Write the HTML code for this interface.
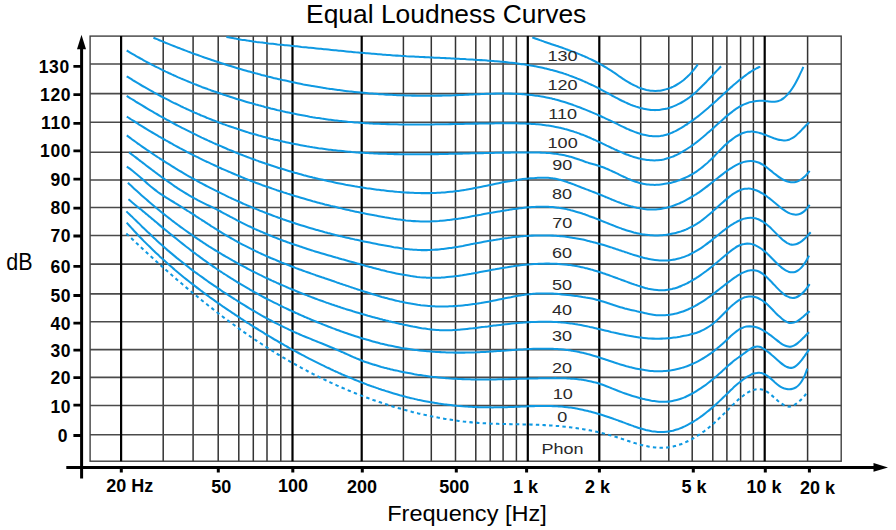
<!DOCTYPE html>
<html><head><meta charset="utf-8"><style>html,body{margin:0;padding:0;background:#fff;width:896px;height:530px;overflow:hidden}</style></head>
<body>
<svg width="896" height="530" viewBox="0 0 896 530" style="position:absolute;left:0;top:0"><path d="M163.2 36.1V461.2M193.1 36.1V461.2M218.2 36.1V461.2M238.8 36.1V461.2M253.3 36.1V461.2M267.0 36.1V461.2M280.8 36.1V461.2M403.4 36.1V461.2M431.3 36.1V461.2M455.5 36.1V461.2M475.8 36.1V461.2M490.2 36.1V461.2M503.1 36.1V461.2M516.4 36.1V461.2M640.7 36.1V461.2M668.8 36.1V461.2M692.2 36.1V461.2M712.8 36.1V461.2M726.9 36.1V461.2M740.6 36.1V461.2M753.4 36.1V461.2M807.6 36.1V461.2" stroke="#333" stroke-width="1.5" fill="none"/><path d="M90.1 64.0H841.2M90.1 93.6H841.2M90.1 122.2H841.2M90.1 152.2H841.2M90.1 180.0H841.2M90.1 207.5H841.2M90.1 235.5H841.2M90.1 264.1H841.2M90.1 293.9H841.2M90.1 321.7H841.2M90.1 349.6H841.2M90.1 377.4H841.2M90.1 405.5H841.2M90.1 434.7H841.2" stroke="#4a4a4a" stroke-width="1.6" fill="none"/><rect x="90.1" y="36.1" width="751.1" height="425.1" stroke="#404040" stroke-width="1.4" fill="none"/><path d="M121.1 36.1V461.2M292.5 36.1V461.2M361.7 36.1V461.2M527.8 36.1V461.2M599.3 36.1V461.2M764.7 36.1V461.2" stroke="#000" stroke-width="2.2" fill="none"/><path d="M532.3 37.4C532.8 37.6 534.3 38.1 535.3 38.5C536.3 38.9 537.3 39.2 538.3 39.6C539.3 39.9 540.3 40.3 541.3 40.6C542.3 41.0 543.3 41.3 544.3 41.7C545.3 42.0 546.3 42.4 547.3 42.7C548.3 43.0 549.3 43.4 550.3 43.7C551.3 44.1 552.3 44.4 553.3 44.7C554.3 45.1 555.3 45.4 556.3 45.8C557.3 46.1 558.3 46.4 559.3 46.8C560.3 47.1 561.3 47.5 562.3 47.8C563.3 48.2 564.3 48.5 565.3 48.9C566.3 49.3 567.3 49.6 568.3 50.0C569.3 50.3 570.3 50.7 571.3 51.1C572.3 51.5 573.3 51.8 574.3 52.2C575.3 52.6 576.3 53.0 577.3 53.4C578.3 53.8 579.3 54.2 580.3 54.6C581.3 55.0 582.3 55.5 583.3 55.9C584.3 56.3 585.3 56.8 586.3 57.2C587.3 57.7 588.3 58.1 589.3 58.6C590.3 59.0 591.3 59.5 592.3 60.0C593.3 60.5 594.3 61.0 595.3 61.5C596.3 62.0 597.3 62.5 598.3 63.1C599.3 63.6 600.3 64.2 601.3 64.7C602.3 65.3 603.3 65.9 604.3 66.5C605.3 67.0 606.3 67.7 607.3 68.3C608.3 68.9 609.3 69.5 610.3 70.2C611.3 70.8 612.3 71.5 613.3 72.2C614.3 72.8 615.3 73.5 616.3 74.2C617.3 74.9 618.3 75.6 619.3 76.3C620.3 76.9 621.3 77.6 622.3 78.3C623.3 79.0 624.3 79.6 625.3 80.3C626.3 80.9 627.3 81.5 628.3 82.1C629.3 82.7 630.3 83.3 631.3 83.9C632.3 84.4 633.3 85.0 634.3 85.4C635.3 85.9 636.3 86.4 637.3 86.8C638.3 87.3 639.3 87.7 640.3 88.0C641.3 88.4 642.3 88.8 643.3 89.1C644.3 89.4 645.3 89.6 646.3 89.9C647.3 90.1 648.3 90.3 649.3 90.4C650.3 90.6 651.3 90.7 652.3 90.8C653.3 90.9 654.3 90.9 655.3 90.9C656.3 90.9 657.3 90.9 658.3 90.8C659.3 90.7 660.3 90.6 661.3 90.4C662.3 90.2 663.3 90.0 664.3 89.8C665.3 89.6 666.3 89.3 667.3 88.9C668.3 88.6 669.3 88.3 670.3 87.9C671.3 87.5 672.3 87.0 673.3 86.6C674.3 86.1 675.3 85.6 676.3 85.0C677.3 84.4 678.3 83.8 679.3 83.2C680.3 82.5 681.3 81.8 682.3 81.0C683.3 80.3 684.3 79.4 685.3 78.6C686.3 77.7 687.3 76.8 688.3 75.8C689.3 74.8 690.3 73.7 691.3 72.6C692.3 71.5 693.3 70.4 694.3 69.1C695.3 67.9 696.7 66.0 697.3 65.2C697.9 64.4 697.7 64.6 697.8 64.5" stroke="#0f99e2" stroke-width="2.05" fill="none" stroke-linejoin="round"/><path d="M226.4 36.9C226.9 37.0 228.4 37.3 229.4 37.5C230.4 37.7 231.4 37.9 232.4 38.1C233.4 38.3 234.4 38.4 235.4 38.6C236.4 38.8 237.4 39.0 238.4 39.2C239.4 39.3 240.4 39.5 241.4 39.7C242.4 39.8 243.4 40.0 244.4 40.1C245.4 40.3 246.4 40.4 247.4 40.6C248.4 40.7 249.4 40.9 250.4 41.0C251.4 41.2 252.4 41.3 253.4 41.5C254.4 41.6 255.4 41.7 256.4 41.9C257.4 42.0 258.4 42.1 259.4 42.3C260.4 42.4 261.4 42.5 262.4 42.6C263.4 42.8 264.4 42.9 265.4 43.0C266.4 43.1 267.4 43.2 268.4 43.4C269.4 43.5 270.4 43.6 271.4 43.7C272.4 43.8 273.4 43.9 274.4 44.0C275.4 44.1 276.4 44.2 277.4 44.4C278.4 44.5 279.4 44.6 280.4 44.7C281.4 44.8 282.4 44.9 283.4 45.0C284.4 45.1 285.4 45.2 286.4 45.3C287.4 45.4 288.4 45.5 289.4 45.6C290.4 45.7 291.4 45.8 292.4 45.9C293.4 46.0 294.4 46.1 295.4 46.2C296.4 46.3 297.4 46.4 298.4 46.5C299.4 46.6 300.4 46.7 301.4 46.9C302.4 47.0 303.4 47.1 304.4 47.2C305.4 47.3 306.4 47.4 307.4 47.5C308.4 47.6 309.4 47.7 310.4 47.8C311.4 47.9 312.4 48.0 313.4 48.1C314.4 48.2 315.4 48.3 316.4 48.4C317.4 48.5 318.4 48.6 319.4 48.7C320.4 48.8 321.4 48.9 322.4 49.0C323.4 49.1 324.4 49.2 325.4 49.3C326.4 49.4 327.4 49.5 328.4 49.6C329.4 49.7 330.4 49.8 331.4 49.9C332.4 50.0 333.4 50.1 334.4 50.2C335.4 50.3 336.4 50.4 337.4 50.5C338.4 50.6 339.4 50.7 340.4 50.8C341.4 50.9 342.4 51.0 343.4 51.1C344.4 51.2 345.4 51.3 346.4 51.4C347.4 51.5 348.4 51.6 349.4 51.7C350.4 51.8 351.4 51.9 352.4 52.0C353.4 52.1 354.4 52.2 355.4 52.3C356.4 52.3 357.4 52.4 358.4 52.5C359.4 52.6 360.4 52.7 361.4 52.8C362.4 52.9 363.4 53.0 364.4 53.1C365.4 53.2 366.4 53.2 367.4 53.3C368.4 53.4 369.4 53.5 370.4 53.6C371.4 53.7 372.4 53.7 373.4 53.8C374.4 53.9 375.4 54.0 376.4 54.1C377.4 54.2 378.4 54.2 379.4 54.3C380.4 54.4 381.4 54.5 382.4 54.6C383.4 54.6 384.4 54.7 385.4 54.8C386.4 54.9 387.4 54.9 388.4 55.0C389.4 55.1 390.4 55.1 391.4 55.2C392.4 55.3 393.4 55.4 394.4 55.4C395.4 55.5 396.4 55.6 397.4 55.6C398.4 55.7 399.4 55.8 400.4 55.8C401.4 55.9 402.4 55.9 403.4 56.0C404.4 56.1 405.4 56.1 406.4 56.2C407.4 56.2 408.4 56.3 409.4 56.4C410.4 56.4 411.4 56.5 412.4 56.5C413.4 56.6 414.4 56.6 415.4 56.7C416.4 56.7 417.4 56.8 418.4 56.8C419.4 56.9 420.4 56.9 421.4 57.0C422.4 57.0 423.4 57.1 424.4 57.1C425.4 57.2 426.4 57.2 427.4 57.3C428.4 57.3 429.4 57.4 430.4 57.4C431.4 57.5 432.4 57.5 433.4 57.6C434.4 57.6 435.4 57.7 436.4 57.7C437.4 57.8 438.4 57.8 439.4 57.8C440.4 57.9 441.4 57.9 442.4 58.0C443.4 58.0 444.4 58.1 445.4 58.1C446.4 58.2 447.4 58.2 448.4 58.3C449.4 58.3 450.4 58.4 451.4 58.4C452.4 58.5 453.4 58.5 454.4 58.6C455.4 58.6 456.4 58.7 457.4 58.7C458.4 58.8 459.4 58.8 460.4 58.9C461.4 58.9 462.4 59.0 463.4 59.0C464.4 59.1 465.4 59.1 466.4 59.2C467.4 59.2 468.4 59.3 469.4 59.4C470.4 59.4 471.4 59.5 472.4 59.5C473.4 59.6 474.4 59.7 475.4 59.7C476.4 59.8 477.4 59.9 478.4 59.9C479.4 60.0 480.4 60.1 481.4 60.1C482.4 60.2 483.4 60.3 484.4 60.3C485.4 60.4 486.4 60.5 487.4 60.6C488.4 60.6 489.4 60.7 490.4 60.8C491.4 60.9 492.4 61.0 493.4 61.0C494.4 61.1 495.4 61.2 496.4 61.3C497.4 61.4 498.4 61.5 499.4 61.6C500.4 61.7 501.4 61.8 502.4 61.8C503.4 61.9 504.4 62.0 505.4 62.1C506.4 62.2 507.4 62.4 508.4 62.5C509.4 62.6 510.4 62.7 511.4 62.8C512.4 62.9 513.4 63.0 514.4 63.1C515.4 63.3 516.4 63.4 517.4 63.5C518.4 63.6 519.4 63.8 520.4 63.9C521.4 64.1 522.4 64.2 523.4 64.3C524.4 64.5 525.4 64.6 526.4 64.8C527.4 64.9 528.4 65.1 529.4 65.3C530.4 65.4 531.4 65.6 532.4 65.8C533.4 66.0 534.4 66.1 535.4 66.3C536.4 66.5 537.4 66.7 538.4 66.9C539.4 67.1 540.4 67.3 541.4 67.5C542.4 67.8 543.4 68.0 544.4 68.2C545.4 68.4 546.4 68.7 547.4 68.9C548.4 69.1 549.4 69.4 550.4 69.7C551.4 69.9 552.4 70.2 553.4 70.4C554.4 70.7 555.4 71.0 556.4 71.3C557.4 71.6 558.4 71.9 559.4 72.2C560.4 72.5 561.4 72.8 562.4 73.1C563.4 73.4 564.4 73.8 565.4 74.1C566.4 74.4 567.4 74.8 568.4 75.1C569.4 75.5 570.4 75.9 571.4 76.2C572.4 76.6 573.4 77.0 574.4 77.4C575.4 77.8 576.4 78.1 577.4 78.6C578.4 79.0 579.4 79.4 580.4 79.8C581.4 80.2 582.4 80.6 583.4 81.1C584.4 81.5 585.4 82.0 586.4 82.4C587.4 82.9 588.4 83.3 589.4 83.8C590.4 84.3 591.4 84.7 592.4 85.2C593.4 85.7 594.4 86.2 595.4 86.7C596.4 87.2 597.4 87.7 598.4 88.2C599.4 88.7 600.4 89.3 601.4 89.8C602.4 90.3 603.4 90.9 604.4 91.4C605.4 92.0 606.4 92.5 607.4 93.0C608.4 93.6 609.4 94.1 610.4 94.7C611.4 95.2 612.4 95.8 613.4 96.3C614.4 96.8 615.4 97.4 616.4 97.9C617.4 98.4 618.4 99.0 619.4 99.5C620.4 100.0 621.4 100.5 622.4 101.0C623.4 101.4 624.4 101.9 625.4 102.4C626.4 102.8 627.4 103.3 628.4 103.7C629.4 104.1 630.4 104.6 631.4 105.0C632.4 105.3 633.4 105.7 634.4 106.1C635.4 106.4 636.4 106.8 637.4 107.1C638.4 107.4 639.4 107.7 640.4 108.0C641.4 108.2 642.4 108.5 643.4 108.7C644.4 108.9 645.4 109.1 646.4 109.3C647.4 109.5 648.4 109.6 649.4 109.7C650.4 109.9 651.4 109.9 652.4 110.0C653.4 110.0 654.4 110.1 655.4 110.1C656.4 110.0 657.4 110.0 658.4 109.9C659.4 109.9 660.4 109.7 661.4 109.6C662.4 109.5 663.4 109.3 664.4 109.1C665.4 108.9 666.4 108.6 667.4 108.4C668.4 108.1 669.4 107.8 670.4 107.5C671.4 107.1 672.4 106.8 673.4 106.4C674.4 106.0 675.4 105.6 676.4 105.1C677.4 104.7 678.4 104.2 679.4 103.7C680.4 103.2 681.4 102.6 682.4 102.0C683.4 101.5 684.4 100.9 685.4 100.2C686.4 99.6 687.4 98.9 688.4 98.2C689.4 97.4 690.4 96.7 691.4 95.9C692.4 95.1 693.4 94.2 694.4 93.4C695.4 92.5 696.4 91.6 697.4 90.7C698.4 89.7 699.4 88.8 700.4 87.8C701.4 86.8 702.4 85.8 703.4 84.8C704.4 83.8 705.4 82.7 706.4 81.7C707.4 80.6 708.4 79.6 709.4 78.5C710.4 77.5 711.4 76.4 712.4 75.4C713.4 74.3 714.4 73.2 715.4 72.2C716.4 71.2 717.4 70.1 718.4 69.1C719.4 68.1 720.6 66.8 721.1 66.4" stroke="#0f99e2" stroke-width="2.05" fill="none" stroke-linejoin="round"/><path d="M153.4 37.7C153.9 37.9 155.4 38.5 156.4 38.9C157.4 39.4 158.4 39.8 159.4 40.2C160.4 40.6 161.4 41.0 162.4 41.4C163.4 41.9 164.4 42.3 165.4 42.7C166.4 43.1 167.4 43.5 168.4 43.9C169.4 44.3 170.4 44.7 171.4 45.1C172.4 45.5 173.4 45.9 174.4 46.3C175.4 46.7 176.4 47.1 177.4 47.5C178.4 47.9 179.4 48.2 180.4 48.6C181.4 49.0 182.4 49.4 183.4 49.8C184.4 50.2 185.4 50.5 186.4 50.9C187.4 51.3 188.4 51.7 189.4 52.0C190.4 52.4 191.4 52.8 192.4 53.2C193.4 53.5 194.4 53.9 195.4 54.3C196.4 54.6 197.4 55.0 198.4 55.3C199.4 55.7 200.4 56.0 201.4 56.4C202.4 56.8 203.4 57.1 204.4 57.5C205.4 57.8 206.4 58.2 207.4 58.5C208.4 58.8 209.4 59.2 210.4 59.5C211.4 59.9 212.4 60.2 213.4 60.5C214.4 60.9 215.4 61.2 216.4 61.5C217.4 61.9 218.4 62.2 219.4 62.5C220.4 62.9 221.4 63.2 222.4 63.5C223.4 63.8 224.4 64.1 225.4 64.5C226.4 64.8 227.4 65.1 228.4 65.4C229.4 65.7 230.4 66.0 231.4 66.3C232.4 66.6 233.4 67.0 234.4 67.3C235.4 67.6 236.4 67.9 237.4 68.2C238.4 68.5 239.4 68.8 240.4 69.0C241.4 69.3 242.4 69.6 243.4 69.9C244.4 70.2 245.4 70.5 246.4 70.8C247.4 71.1 248.4 71.3 249.4 71.6C250.4 71.9 251.4 72.2 252.4 72.5C253.4 72.7 254.4 73.0 255.4 73.3C256.4 73.5 257.4 73.8 258.4 74.1C259.4 74.3 260.4 74.6 261.4 74.9C262.4 75.1 263.4 75.4 264.4 75.6C265.4 75.9 266.4 76.1 267.4 76.4C268.4 76.6 269.4 76.9 270.4 77.1C271.4 77.4 272.4 77.6 273.4 77.9C274.4 78.1 275.4 78.4 276.4 78.6C277.4 78.8 278.4 79.1 279.4 79.3C280.4 79.5 281.4 79.7 282.4 80.0C283.4 80.2 284.4 80.4 285.4 80.6C286.4 80.9 287.4 81.1 288.4 81.3C289.4 81.5 290.4 81.7 291.4 81.9C292.4 82.2 293.4 82.4 294.4 82.6C295.4 82.8 296.4 83.0 297.4 83.2C298.4 83.4 299.4 83.6 300.4 83.8C301.4 84.0 302.4 84.2 303.4 84.4C304.4 84.5 305.4 84.7 306.4 84.9C307.4 85.1 308.4 85.3 309.4 85.5C310.4 85.7 311.4 85.8 312.4 86.0C313.4 86.2 314.4 86.4 315.4 86.5C316.4 86.7 317.4 86.9 318.4 87.0C319.4 87.2 320.4 87.4 321.4 87.5C322.4 87.7 323.4 87.8 324.4 88.0C325.4 88.2 326.4 88.3 327.4 88.5C328.4 88.6 329.4 88.8 330.4 88.9C331.4 89.0 332.4 89.2 333.4 89.3C334.4 89.5 335.4 89.6 336.4 89.7C337.4 89.9 338.4 90.0 339.4 90.1C340.4 90.3 341.4 90.4 342.4 90.5C343.4 90.7 344.4 90.8 345.4 90.9C346.4 91.0 347.4 91.1 348.4 91.3C349.4 91.4 350.4 91.5 351.4 91.6C352.4 91.7 353.4 91.8 354.4 91.9C355.4 92.0 356.4 92.1 357.4 92.2C358.4 92.3 359.4 92.4 360.4 92.5C361.4 92.6 362.4 92.7 363.4 92.8C364.4 92.9 365.4 93.0 366.4 93.1C367.4 93.2 368.4 93.3 369.4 93.4C370.4 93.4 371.4 93.5 372.4 93.6C373.4 93.7 374.4 93.8 375.4 93.8C376.4 93.9 377.4 94.0 378.4 94.1C379.4 94.1 380.4 94.2 381.4 94.3C382.4 94.3 383.4 94.4 384.4 94.4C385.4 94.5 386.4 94.6 387.4 94.6C388.4 94.7 389.4 94.7 390.4 94.8C391.4 94.8 392.4 94.9 393.4 94.9C394.4 95.0 395.4 95.0 396.4 95.1C397.4 95.1 398.4 95.2 399.4 95.2C400.4 95.2 401.4 95.3 402.4 95.3C403.4 95.3 404.4 95.4 405.4 95.4C406.4 95.4 407.4 95.5 408.4 95.5C409.4 95.5 410.4 95.5 411.4 95.6C412.4 95.6 413.4 95.6 414.4 95.6C415.4 95.6 416.4 95.6 417.4 95.7C418.4 95.7 419.4 95.7 420.4 95.7C421.4 95.7 422.4 95.7 423.4 95.7C424.4 95.7 425.4 95.7 426.4 95.7C427.4 95.7 428.4 95.7 429.4 95.7C430.4 95.7 431.4 95.7 432.4 95.7C433.4 95.7 434.4 95.7 435.4 95.7C436.4 95.7 437.4 95.7 438.4 95.6C439.4 95.6 440.4 95.6 441.4 95.6C442.4 95.6 443.4 95.5 444.4 95.5C445.4 95.5 446.4 95.5 447.4 95.4C448.4 95.4 449.4 95.4 450.4 95.4C451.4 95.3 452.4 95.3 453.4 95.3C454.4 95.2 455.4 95.2 456.4 95.1C457.4 95.1 458.4 95.1 459.4 95.0C460.4 95.0 461.4 94.9 462.4 94.9C463.4 94.8 464.4 94.8 465.4 94.8C466.4 94.7 467.4 94.7 468.4 94.6C469.4 94.6 470.4 94.5 471.4 94.5C472.4 94.4 473.4 94.4 474.4 94.3C475.4 94.3 476.4 94.2 477.4 94.2C478.4 94.2 479.4 94.1 480.4 94.1C481.4 94.0 482.4 94.0 483.4 93.9C484.4 93.9 485.4 93.9 486.4 93.8C487.4 93.8 488.4 93.8 489.4 93.7C490.4 93.7 491.4 93.7 492.4 93.7C493.4 93.6 494.4 93.6 495.4 93.6C496.4 93.6 497.4 93.5 498.4 93.5C499.4 93.5 500.4 93.5 501.4 93.5C502.4 93.5 503.4 93.5 504.4 93.5C505.4 93.5 506.4 93.5 507.4 93.5C508.4 93.6 509.4 93.6 510.4 93.6C511.4 93.6 512.4 93.6 513.4 93.7C514.4 93.7 515.4 93.8 516.4 93.8C517.4 93.8 518.4 93.9 519.4 94.0C520.4 94.0 521.4 94.1 522.4 94.1C523.4 94.2 524.4 94.3 525.4 94.4C526.4 94.5 527.4 94.6 528.4 94.7C529.4 94.8 530.4 94.9 531.4 95.0C532.4 95.1 533.4 95.2 534.4 95.4C535.4 95.5 536.4 95.6 537.4 95.8C538.4 95.9 539.4 96.1 540.4 96.3C541.4 96.4 542.4 96.6 543.4 96.8C544.4 97.0 545.4 97.2 546.4 97.4C547.4 97.6 548.4 97.8 549.4 98.0C550.4 98.2 551.4 98.5 552.4 98.7C553.4 99.0 554.4 99.2 555.4 99.5C556.4 99.7 557.4 100.0 558.4 100.3C559.4 100.6 560.4 100.9 561.4 101.2C562.4 101.5 563.4 101.8 564.4 102.1C565.4 102.4 566.4 102.7 567.4 103.0C568.4 103.4 569.4 103.7 570.4 104.0C571.4 104.4 572.4 104.7 573.4 105.1C574.4 105.5 575.4 105.8 576.4 106.2C577.4 106.5 578.4 106.9 579.4 107.3C580.4 107.7 581.4 108.1 582.4 108.5C583.4 108.8 584.4 109.2 585.4 109.6C586.4 110.0 587.4 110.4 588.4 110.9C589.4 111.3 590.4 111.7 591.4 112.1C592.4 112.5 593.4 112.9 594.4 113.4C595.4 113.8 596.4 114.2 597.4 114.7C598.4 115.1 599.4 115.6 600.4 116.0C601.4 116.5 602.4 116.9 603.4 117.4C604.4 117.9 605.4 118.3 606.4 118.8C607.4 119.3 608.4 119.8 609.4 120.2C610.4 120.7 611.4 121.2 612.4 121.7C613.4 122.2 614.4 122.7 615.4 123.2C616.4 123.7 617.4 124.2 618.4 124.6C619.4 125.1 620.4 125.6 621.4 126.1C622.4 126.6 623.4 127.1 624.4 127.5C625.4 128.0 626.4 128.4 627.4 128.9C628.4 129.3 629.4 129.8 630.4 130.2C631.4 130.6 632.4 131.0 633.4 131.4C634.4 131.8 635.4 132.2 636.4 132.5C637.4 132.9 638.4 133.2 639.4 133.5C640.4 133.9 641.4 134.2 642.4 134.4C643.4 134.7 644.4 134.9 645.4 135.1C646.4 135.4 647.4 135.5 648.4 135.7C649.4 135.9 650.4 136.0 651.4 136.1C652.4 136.2 653.4 136.2 654.4 136.3C655.4 136.3 656.4 136.3 657.4 136.2C658.4 136.2 659.4 136.1 660.4 136.0C661.4 135.8 662.4 135.7 663.4 135.4C664.4 135.2 665.4 135.0 666.4 134.7C667.4 134.4 668.4 134.0 669.4 133.7C670.4 133.3 671.4 132.9 672.4 132.5C673.4 132.0 674.4 131.5 675.4 131.1C676.4 130.6 677.4 130.0 678.4 129.5C679.4 128.9 680.4 128.4 681.4 127.8C682.4 127.2 683.4 126.5 684.4 125.9C685.4 125.3 686.4 124.6 687.4 124.0C688.4 123.3 689.4 122.6 690.4 121.9C691.4 121.2 692.4 120.5 693.4 119.8C694.4 119.0 695.4 118.3 696.4 117.5C697.4 116.8 698.4 116.0 699.4 115.2C700.4 114.4 701.4 113.6 702.4 112.8C703.4 112.0 704.4 111.1 705.4 110.3C706.4 109.5 707.4 108.6 708.4 107.7C709.4 106.9 710.4 106.0 711.4 105.1C712.4 104.2 713.4 103.3 714.4 102.4C715.4 101.5 716.4 100.6 717.4 99.7C718.4 98.7 719.4 97.8 720.4 96.9C721.4 96.0 722.4 95.1 723.4 94.2C724.4 93.2 725.4 92.3 726.4 91.4C727.4 90.5 728.4 89.6 729.4 88.7C730.4 87.8 731.4 86.9 732.4 86.1C733.4 85.2 734.4 84.3 735.4 83.5C736.4 82.6 737.4 81.8 738.4 80.9C739.4 80.1 740.4 79.3 741.4 78.5C742.4 77.7 743.4 77.0 744.4 76.2C745.4 75.5 746.4 74.7 747.4 74.0C748.4 73.3 749.4 72.6 750.4 72.0C751.4 71.3 752.4 70.7 753.4 70.1C754.4 69.5 755.4 68.9 756.4 68.4C757.4 67.8 758.8 67.2 759.4 66.9C760.0 66.6 760.1 66.6 760.2 66.5" stroke="#0f99e2" stroke-width="2.05" fill="none" stroke-linejoin="round"/><path d="M126.7 50.5C127.2 50.8 128.7 51.7 129.7 52.3C130.7 52.9 131.7 53.5 132.7 54.1C133.7 54.7 134.7 55.2 135.7 55.8C136.7 56.4 137.7 57.0 138.7 57.5C139.7 58.1 140.7 58.7 141.7 59.2C142.7 59.8 143.7 60.3 144.7 60.9C145.7 61.4 146.7 61.9 147.7 62.5C148.7 63.0 149.7 63.5 150.7 64.1C151.7 64.6 152.7 65.1 153.7 65.6C154.7 66.1 155.7 66.6 156.7 67.2C157.7 67.7 158.7 68.2 159.7 68.6C160.7 69.1 161.7 69.6 162.7 70.1C163.7 70.6 164.7 71.1 165.7 71.6C166.7 72.0 167.7 72.5 168.7 73.0C169.7 73.4 170.7 73.9 171.7 74.4C172.7 74.8 173.7 75.3 174.7 75.7C175.7 76.2 176.7 76.6 177.7 77.1C178.7 77.5 179.7 77.9 180.7 78.4C181.7 78.8 182.7 79.2 183.7 79.6C184.7 80.1 185.7 80.5 186.7 80.9C187.7 81.3 188.7 81.7 189.7 82.1C190.7 82.6 191.7 83.0 192.7 83.4C193.7 83.8 194.7 84.2 195.7 84.5C196.7 84.9 197.7 85.3 198.7 85.7C199.7 86.1 200.7 86.5 201.7 86.9C202.7 87.2 203.7 87.6 204.7 88.0C205.7 88.4 206.7 88.7 207.7 89.1C208.7 89.5 209.7 89.8 210.7 90.2C211.7 90.5 212.7 90.9 213.7 91.3C214.7 91.6 215.7 92.0 216.7 92.3C217.7 92.7 218.7 93.0 219.7 93.3C220.7 93.7 221.7 94.0 222.7 94.4C223.7 94.7 224.7 95.0 225.7 95.3C226.7 95.7 227.7 96.0 228.7 96.3C229.7 96.7 230.7 97.0 231.7 97.3C232.7 97.6 233.7 97.9 234.7 98.2C235.7 98.6 236.7 98.9 237.7 99.2C238.7 99.5 239.7 99.8 240.7 100.1C241.7 100.4 242.7 100.7 243.7 101.0C244.7 101.3 245.7 101.6 246.7 101.9C247.7 102.2 248.7 102.5 249.7 102.8C250.7 103.0 251.7 103.3 252.7 103.6C253.7 103.9 254.7 104.2 255.7 104.5C256.7 104.7 257.7 105.0 258.7 105.3C259.7 105.5 260.7 105.8 261.7 106.1C262.7 106.3 263.7 106.6 264.7 106.9C265.7 107.1 266.7 107.4 267.7 107.6C268.7 107.9 269.7 108.1 270.7 108.4C271.7 108.6 272.7 108.9 273.7 109.1C274.7 109.4 275.7 109.6 276.7 109.9C277.7 110.1 278.7 110.3 279.7 110.6C280.7 110.8 281.7 111.0 282.7 111.3C283.7 111.5 284.7 111.7 285.7 111.9C286.7 112.1 287.7 112.4 288.7 112.6C289.7 112.8 290.7 113.0 291.7 113.2C292.7 113.4 293.7 113.6 294.7 113.8C295.7 114.0 296.7 114.2 297.7 114.4C298.7 114.6 299.7 114.8 300.7 115.0C301.7 115.2 302.7 115.4 303.7 115.6C304.7 115.8 305.7 115.9 306.7 116.1C307.7 116.3 308.7 116.5 309.7 116.7C310.7 116.8 311.7 117.0 312.7 117.2C313.7 117.3 314.7 117.5 315.7 117.7C316.7 117.8 317.7 118.0 318.7 118.1C319.7 118.3 320.7 118.4 321.7 118.6C322.7 118.7 323.7 118.9 324.7 119.0C325.7 119.2 326.7 119.3 327.7 119.4C328.7 119.6 329.7 119.7 330.7 119.8C331.7 120.0 332.7 120.1 333.7 120.2C334.7 120.4 335.7 120.5 336.7 120.6C337.7 120.7 338.7 120.8 339.7 120.9C340.7 121.0 341.7 121.2 342.7 121.3C343.7 121.4 344.7 121.5 345.7 121.6C346.7 121.7 347.7 121.8 348.7 121.9C349.7 121.9 350.7 122.0 351.7 122.1C352.7 122.2 353.7 122.3 354.7 122.4C355.7 122.5 356.7 122.5 357.7 122.6C358.7 122.7 359.7 122.8 360.7 122.8C361.7 122.9 362.7 123.0 363.7 123.0C364.7 123.1 365.7 123.2 366.7 123.2C367.7 123.3 368.7 123.3 369.7 123.4C370.7 123.4 371.7 123.5 372.7 123.6C373.7 123.6 374.7 123.6 375.7 123.7C376.7 123.7 377.7 123.8 378.7 123.8C379.7 123.9 380.7 123.9 381.7 123.9C382.7 124.0 383.7 124.0 384.7 124.0C385.7 124.1 386.7 124.1 387.7 124.1C388.7 124.2 389.7 124.2 390.7 124.2C391.7 124.2 392.7 124.3 393.7 124.3C394.7 124.3 395.7 124.3 396.7 124.3C397.7 124.4 398.7 124.4 399.7 124.4C400.7 124.4 401.7 124.4 402.7 124.4C403.7 124.4 404.7 124.5 405.7 124.5C406.7 124.5 407.7 124.5 408.7 124.5C409.7 124.5 410.7 124.5 411.7 124.5C412.7 124.5 413.7 124.5 414.7 124.5C415.7 124.5 416.7 124.5 417.7 124.5C418.7 124.5 419.7 124.5 420.7 124.5C421.7 124.5 422.7 124.5 423.7 124.5C424.7 124.5 425.7 124.5 426.7 124.4C427.7 124.4 428.7 124.4 429.7 124.4C430.7 124.4 431.7 124.4 432.7 124.4C433.7 124.4 434.7 124.4 435.7 124.3C436.7 124.3 437.7 124.3 438.7 124.3C439.7 124.3 440.7 124.3 441.7 124.3C442.7 124.2 443.7 124.2 444.7 124.2C445.7 124.2 446.7 124.2 447.7 124.2C448.7 124.1 449.7 124.1 450.7 124.1C451.7 124.1 452.7 124.1 453.7 124.0C454.7 124.0 455.7 124.0 456.7 124.0C457.7 124.0 458.7 123.9 459.7 123.9C460.7 123.9 461.7 123.9 462.7 123.9C463.7 123.8 464.7 123.8 465.7 123.8C466.7 123.8 467.7 123.8 468.7 123.7C469.7 123.7 470.7 123.7 471.7 123.7C472.7 123.7 473.7 123.7 474.7 123.6C475.7 123.6 476.7 123.6 477.7 123.6C478.7 123.6 479.7 123.5 480.7 123.5C481.7 123.5 482.7 123.5 483.7 123.5C484.7 123.5 485.7 123.5 486.7 123.4C487.7 123.4 488.7 123.4 489.7 123.4C490.7 123.4 491.7 123.4 492.7 123.4C493.7 123.3 494.7 123.3 495.7 123.3C496.7 123.3 497.7 123.3 498.7 123.3C499.7 123.3 500.7 123.3 501.7 123.3C502.7 123.3 503.7 123.3 504.7 123.3C505.7 123.3 506.7 123.3 507.7 123.3C508.7 123.3 509.7 123.3 510.7 123.3C511.7 123.3 512.7 123.3 513.7 123.3C514.7 123.3 515.7 123.3 516.7 123.3C517.7 123.3 518.7 123.3 519.7 123.4C520.7 123.4 521.7 123.4 522.7 123.5C523.7 123.5 524.7 123.5 525.7 123.6C526.7 123.6 527.7 123.7 528.7 123.7C529.7 123.8 530.7 123.8 531.7 123.9C532.7 123.9 533.7 124.0 534.7 124.1C535.7 124.2 536.7 124.2 537.7 124.3C538.7 124.4 539.7 124.5 540.7 124.6C541.7 124.7 542.7 124.9 543.7 125.0C544.7 125.1 545.7 125.2 546.7 125.4C547.7 125.5 548.7 125.7 549.7 125.8C550.7 126.0 551.7 126.1 552.7 126.3C553.7 126.5 554.7 126.7 555.7 126.9C556.7 127.1 557.7 127.3 558.7 127.5C559.7 127.7 560.7 128.0 561.7 128.2C562.7 128.4 563.7 128.7 564.7 129.0C565.7 129.2 566.7 129.5 567.7 129.8C568.7 130.1 569.7 130.4 570.7 130.7C571.7 131.0 572.7 131.3 573.7 131.6C574.7 132.0 575.7 132.3 576.7 132.6C577.7 133.0 578.7 133.3 579.7 133.7C580.7 134.1 581.7 134.5 582.7 134.8C583.7 135.2 584.7 135.6 585.7 136.0C586.7 136.4 587.7 136.8 588.7 137.3C589.7 137.7 590.7 138.1 591.7 138.6C592.7 139.0 593.7 139.5 594.7 139.9C595.7 140.4 596.7 140.8 597.7 141.3C598.7 141.8 599.7 142.2 600.7 142.7C601.7 143.2 602.7 143.6 603.7 144.1C604.7 144.6 605.7 145.1 606.7 145.6C607.7 146.0 608.7 146.5 609.7 147.0C610.7 147.5 611.7 147.9 612.7 148.4C613.7 148.9 614.7 149.3 615.7 149.8C616.7 150.2 617.7 150.7 618.7 151.1C619.7 151.6 620.7 152.0 621.7 152.4C622.7 152.8 623.7 153.3 624.7 153.7C625.7 154.1 626.7 154.5 627.7 154.8C628.7 155.2 629.7 155.6 630.7 155.9C631.7 156.3 632.7 156.6 633.7 156.9C634.7 157.2 635.7 157.5 636.7 157.8C637.7 158.1 638.7 158.3 639.7 158.6C640.7 158.8 641.7 159.0 642.7 159.2C643.7 159.4 644.7 159.6 645.7 159.7C646.7 159.9 647.7 160.0 648.7 160.1C649.7 160.2 650.7 160.3 651.7 160.3C652.7 160.4 653.7 160.4 654.7 160.4C655.7 160.3 656.7 160.3 657.7 160.2C658.7 160.1 659.7 160.0 660.7 159.9C661.7 159.7 662.7 159.6 663.7 159.4C664.7 159.1 665.7 158.9 666.7 158.6C667.7 158.3 668.7 158.0 669.7 157.7C670.7 157.3 671.7 157.0 672.7 156.6C673.7 156.2 674.7 155.7 675.7 155.3C676.7 154.8 677.7 154.3 678.7 153.8C679.7 153.3 680.7 152.7 681.7 152.2C682.7 151.6 683.7 151.0 684.7 150.4C685.7 149.8 686.7 149.2 687.7 148.5C688.7 147.8 689.7 147.2 690.7 146.5C691.7 145.8 692.7 145.0 693.7 144.3C694.7 143.6 695.7 142.8 696.7 142.1C697.7 141.3 698.7 140.5 699.7 139.7C700.7 138.9 701.7 138.1 702.7 137.3C703.7 136.4 704.7 135.6 705.7 134.7C706.7 133.9 707.7 133.0 708.7 132.1C709.7 131.3 710.7 130.4 711.7 129.5C712.7 128.6 713.7 127.7 714.7 126.8C715.7 125.9 716.7 125.0 717.7 124.1C718.7 123.2 719.7 122.3 720.7 121.4C721.7 120.5 722.7 119.6 723.7 118.7C724.7 117.8 725.7 116.9 726.7 116.1C727.7 115.3 728.7 114.4 729.7 113.6C730.7 112.8 731.7 112.0 732.7 111.3C733.7 110.5 734.7 109.8 735.7 109.1C736.7 108.5 737.7 107.8 738.7 107.2C739.7 106.6 740.7 106.0 741.7 105.5C742.7 105.0 743.7 104.5 744.7 104.1C745.7 103.7 746.7 103.3 747.7 103.0C748.7 102.6 749.7 102.3 750.7 102.1C751.7 101.8 752.7 101.6 753.7 101.4C754.7 101.2 755.7 101.1 756.7 101.0C757.7 100.9 758.7 100.8 759.7 100.8C760.7 100.8 761.7 100.8 762.7 100.8C763.7 100.9 764.7 101.0 765.7 101.1C766.7 101.1 767.7 101.3 768.7 101.4C769.7 101.5 770.7 101.6 771.7 101.7C772.7 101.7 773.7 101.8 774.7 101.7C775.7 101.6 776.7 101.5 777.7 101.2C778.7 100.9 779.7 100.6 780.7 100.1C781.7 99.5 782.7 98.9 783.7 98.1C784.7 97.4 785.7 96.5 786.7 95.4C787.7 94.4 788.7 93.2 789.7 92.0C790.7 90.7 791.7 89.2 792.7 87.7C793.7 86.2 794.7 84.5 795.7 82.7C796.7 80.9 797.7 79.0 798.7 77.0C799.7 74.9 800.9 72.2 801.7 70.6C802.5 68.9 803.0 67.5 803.3 66.9" stroke="#0f99e2" stroke-width="2.05" fill="none" stroke-linejoin="round"/><path d="M126.7 76.3C127.2 76.6 128.7 77.6 129.7 78.2C130.7 78.8 131.7 79.4 132.7 80.1C133.7 80.7 134.7 81.3 135.7 81.9C136.7 82.5 137.7 83.1 138.7 83.7C139.7 84.3 140.7 84.9 141.7 85.5C142.7 86.0 143.7 86.6 144.7 87.2C145.7 87.8 146.7 88.4 147.7 88.9C148.7 89.5 149.7 90.1 150.7 90.6C151.7 91.2 152.7 91.7 153.7 92.3C154.7 92.8 155.7 93.4 156.7 93.9C157.7 94.5 158.7 95.0 159.7 95.5C160.7 96.1 161.7 96.6 162.7 97.1C163.7 97.7 164.7 98.2 165.7 98.7C166.7 99.2 167.7 99.7 168.7 100.2C169.7 100.8 170.7 101.3 171.7 101.8C172.7 102.3 173.7 102.8 174.7 103.3C175.7 103.7 176.7 104.2 177.7 104.7C178.7 105.2 179.7 105.7 180.7 106.2C181.7 106.6 182.7 107.1 183.7 107.6C184.7 108.0 185.7 108.5 186.7 109.0C187.7 109.4 188.7 109.9 189.7 110.3C190.7 110.8 191.7 111.2 192.7 111.7C193.7 112.1 194.7 112.6 195.7 113.0C196.7 113.4 197.7 113.9 198.7 114.3C199.7 114.7 200.7 115.2 201.7 115.6C202.7 116.0 203.7 116.4 204.7 116.8C205.7 117.2 206.7 117.7 207.7 118.1C208.7 118.5 209.7 118.9 210.7 119.3C211.7 119.7 212.7 120.1 213.7 120.4C214.7 120.8 215.7 121.2 216.7 121.6C217.7 122.0 218.7 122.4 219.7 122.7C220.7 123.1 221.7 123.5 222.7 123.9C223.7 124.2 224.7 124.6 225.7 124.9C226.7 125.3 227.7 125.7 228.7 126.0C229.7 126.4 230.7 126.7 231.7 127.1C232.7 127.4 233.7 127.7 234.7 128.1C235.7 128.4 236.7 128.7 237.7 129.1C238.7 129.4 239.7 129.7 240.7 130.1C241.7 130.4 242.7 130.7 243.7 131.0C244.7 131.3 245.7 131.6 246.7 131.9C247.7 132.3 248.7 132.6 249.7 132.9C250.7 133.2 251.7 133.5 252.7 133.7C253.7 134.0 254.7 134.3 255.7 134.6C256.7 134.9 257.7 135.2 258.7 135.5C259.7 135.7 260.7 136.0 261.7 136.3C262.7 136.6 263.7 136.8 264.7 137.1C265.7 137.4 266.7 137.6 267.7 137.9C268.7 138.1 269.7 138.4 270.7 138.7C271.7 138.9 272.7 139.2 273.7 139.4C274.7 139.6 275.7 139.9 276.7 140.1C277.7 140.4 278.7 140.6 279.7 140.8C280.7 141.1 281.7 141.3 282.7 141.5C283.7 141.7 284.7 142.0 285.7 142.2C286.7 142.4 287.7 142.6 288.7 142.8C289.7 143.0 290.7 143.2 291.7 143.4C292.7 143.6 293.7 143.8 294.7 144.0C295.7 144.2 296.7 144.4 297.7 144.6C298.7 144.8 299.7 145.0 300.7 145.2C301.7 145.4 302.7 145.6 303.7 145.7C304.7 145.9 305.7 146.1 306.7 146.3C307.7 146.4 308.7 146.6 309.7 146.8C310.7 146.9 311.7 147.1 312.7 147.3C313.7 147.4 314.7 147.6 315.7 147.7C316.7 147.9 317.7 148.0 318.7 148.2C319.7 148.3 320.7 148.5 321.7 148.6C322.7 148.8 323.7 148.9 324.7 149.0C325.7 149.2 326.7 149.3 327.7 149.4C328.7 149.6 329.7 149.7 330.7 149.8C331.7 149.9 332.7 150.1 333.7 150.2C334.7 150.3 335.7 150.4 336.7 150.5C337.7 150.6 338.7 150.7 339.7 150.8C340.7 150.9 341.7 151.0 342.7 151.1C343.7 151.2 344.7 151.3 345.7 151.4C346.7 151.5 347.7 151.6 348.7 151.7C349.7 151.8 350.7 151.9 351.7 152.0C352.7 152.0 353.7 152.1 354.7 152.2C355.7 152.3 356.7 152.4 357.7 152.4C358.7 152.5 359.7 152.6 360.7 152.6C361.7 152.7 362.7 152.8 363.7 152.8C364.7 152.9 365.7 153.0 366.7 153.0C367.7 153.1 368.7 153.1 369.7 153.2C370.7 153.2 371.7 153.3 372.7 153.3C373.7 153.4 374.7 153.4 375.7 153.5C376.7 153.5 377.7 153.6 378.7 153.6C379.7 153.6 380.7 153.7 381.7 153.7C382.7 153.7 383.7 153.8 384.7 153.8C385.7 153.8 386.7 153.9 387.7 153.9C388.7 153.9 389.7 154.0 390.7 154.0C391.7 154.0 392.7 154.0 393.7 154.1C394.7 154.1 395.7 154.1 396.7 154.1C397.7 154.1 398.7 154.1 399.7 154.2C400.7 154.2 401.7 154.2 402.7 154.2C403.7 154.2 404.7 154.2 405.7 154.2C406.7 154.2 407.7 154.2 408.7 154.2C409.7 154.3 410.7 154.3 411.7 154.3C412.7 154.3 413.7 154.3 414.7 154.3C415.7 154.3 416.7 154.3 417.7 154.3C418.7 154.3 419.7 154.3 420.7 154.2C421.7 154.2 422.7 154.2 423.7 154.2C424.7 154.2 425.7 154.2 426.7 154.2C427.7 154.2 428.7 154.2 429.7 154.2C430.7 154.2 431.7 154.2 432.7 154.1C433.7 154.1 434.7 154.1 435.7 154.1C436.7 154.1 437.7 154.1 438.7 154.1C439.7 154.0 440.7 154.0 441.7 154.0C442.7 154.0 443.7 154.0 444.7 153.9C445.7 153.9 446.7 153.9 447.7 153.9C448.7 153.9 449.7 153.8 450.7 153.8C451.7 153.8 452.7 153.8 453.7 153.8C454.7 153.7 455.7 153.7 456.7 153.7C457.7 153.7 458.7 153.7 459.7 153.6C460.7 153.6 461.7 153.6 462.7 153.6C463.7 153.5 464.7 153.5 465.7 153.5C466.7 153.5 467.7 153.4 468.7 153.4C469.7 153.4 470.7 153.4 471.7 153.3C472.7 153.3 473.7 153.3 474.7 153.3C475.7 153.2 476.7 153.2 477.7 153.2C478.7 153.2 479.7 153.2 480.7 153.1C481.7 153.1 482.7 153.1 483.7 153.1C484.7 153.0 485.7 153.0 486.7 153.0C487.7 153.0 488.7 152.9 489.7 152.9C490.7 152.9 491.7 152.9 492.7 152.9C493.7 152.8 494.7 152.8 495.7 152.8C496.7 152.8 497.7 152.8 498.7 152.7C499.7 152.7 500.7 152.7 501.7 152.7C502.7 152.7 503.7 152.7 504.7 152.6C505.7 152.6 506.7 152.6 507.7 152.6C508.7 152.6 509.7 152.6 510.7 152.6C511.7 152.5 512.7 152.5 513.7 152.5C514.7 152.5 515.7 152.5 516.7 152.5C517.7 152.5 518.7 152.5 519.7 152.5C520.7 152.5 521.7 152.5 522.7 152.5C523.7 152.5 524.7 152.4 525.7 152.4C526.7 152.4 527.7 152.4 528.7 152.4C529.7 152.4 530.7 152.4 531.7 152.5C532.7 152.5 533.7 152.5 534.7 152.5C535.7 152.5 536.7 152.5 537.7 152.5C538.7 152.5 539.7 152.6 540.7 152.6C541.7 152.6 542.7 152.7 543.7 152.7C544.7 152.8 545.7 152.8 546.7 152.9C547.7 153.0 548.7 153.0 549.7 153.1C550.7 153.2 551.7 153.3 552.7 153.4C553.7 153.5 554.7 153.6 555.7 153.8C556.7 153.9 557.7 154.0 558.7 154.2C559.7 154.3 560.7 154.5 561.7 154.7C562.7 154.9 563.7 155.1 564.7 155.3C565.7 155.5 566.7 155.8 567.7 156.0C568.7 156.3 569.7 156.5 570.7 156.8C571.7 157.1 572.7 157.4 573.7 157.7C574.7 158.1 575.7 158.4 576.7 158.7C577.7 159.1 578.7 159.4 579.7 159.8C580.7 160.1 581.7 160.5 582.7 160.8C583.7 161.2 584.7 161.6 585.7 161.9C586.7 162.2 587.7 162.6 588.7 162.9C589.7 163.2 590.7 163.5 591.7 163.8C592.7 164.1 593.7 164.4 594.7 164.6C595.7 164.9 596.7 165.2 597.7 165.5C598.7 165.8 599.7 166.1 600.7 166.5C601.7 166.8 602.7 167.2 603.7 167.5C604.7 167.9 605.7 168.3 606.7 168.8C607.7 169.2 608.7 169.6 609.7 170.1C610.7 170.5 611.7 171.0 612.7 171.5C613.7 171.9 614.7 172.4 615.7 172.9C616.7 173.4 617.7 173.9 618.7 174.3C619.7 174.8 620.7 175.3 621.7 175.8C622.7 176.3 623.7 176.7 624.7 177.2C625.7 177.7 626.7 178.1 627.7 178.6C628.7 179.0 629.7 179.4 630.7 179.8C631.7 180.3 632.7 180.7 633.7 181.0C634.7 181.4 635.7 181.8 636.7 182.1C637.7 182.4 638.7 182.7 639.7 183.0C640.7 183.2 641.7 183.5 642.7 183.7C643.7 183.9 644.7 184.1 645.7 184.2C646.7 184.4 647.7 184.5 648.7 184.6C649.7 184.7 650.7 184.8 651.7 184.8C652.7 184.8 653.7 184.9 654.7 184.9C655.7 184.8 656.7 184.8 657.7 184.7C658.7 184.7 659.7 184.6 660.7 184.5C661.7 184.4 662.7 184.3 663.7 184.1C664.7 184.0 665.7 183.8 666.7 183.6C667.7 183.4 668.7 183.2 669.7 183.0C670.7 182.8 671.7 182.5 672.7 182.3C673.7 182.0 674.7 181.7 675.7 181.4C676.7 181.1 677.7 180.8 678.7 180.4C679.7 180.1 680.7 179.7 681.7 179.3C682.7 178.9 683.7 178.5 684.7 178.0C685.7 177.6 686.7 177.1 687.7 176.6C688.7 176.1 689.7 175.6 690.7 175.0C691.7 174.5 692.7 173.9 693.7 173.3C694.7 172.6 695.7 172.0 696.7 171.3C697.7 170.6 698.7 169.9 699.7 169.2C700.7 168.4 701.7 167.7 702.7 166.9C703.7 166.1 704.7 165.2 705.7 164.3C706.7 163.5 707.7 162.6 708.7 161.6C709.7 160.7 710.7 159.8 711.7 158.8C712.7 157.8 713.7 156.7 714.7 155.7C715.7 154.7 716.7 153.6 717.7 152.6C718.7 151.5 719.7 150.5 720.7 149.5C721.7 148.5 722.7 147.5 723.7 146.5C724.7 145.6 725.7 144.6 726.7 143.7C727.7 142.8 728.7 142.0 729.7 141.1C730.7 140.3 731.7 139.5 732.7 138.8C733.7 138.1 734.7 137.4 735.7 136.7C736.7 136.1 737.7 135.5 738.7 135.0C739.7 134.4 740.7 133.9 741.7 133.5C742.7 133.1 743.7 132.8 744.7 132.5C745.7 132.2 746.7 132.0 747.7 131.8C748.7 131.7 749.7 131.6 750.7 131.6C751.7 131.5 752.7 131.6 753.7 131.7C754.7 131.8 755.7 132.0 756.7 132.2C757.7 132.4 758.7 132.6 759.7 132.9C760.7 133.2 761.7 133.5 762.7 133.9C763.7 134.2 764.7 134.6 765.7 135.0C766.7 135.4 767.7 135.8 768.7 136.2C769.7 136.6 770.7 137.0 771.7 137.4C772.7 137.8 773.7 138.2 774.7 138.6C775.7 138.9 776.7 139.2 777.7 139.5C778.7 139.8 779.7 140.0 780.7 140.1C781.7 140.3 782.7 140.4 783.7 140.4C784.7 140.4 785.7 140.3 786.7 140.2C787.7 140.0 788.7 139.7 789.7 139.4C790.7 139.0 791.7 138.5 792.7 137.9C793.7 137.3 794.7 136.5 795.7 135.7C796.7 134.8 797.7 133.9 798.7 132.9C799.7 132.0 800.7 130.9 801.7 129.9C802.7 128.8 803.7 127.8 804.7 126.7C805.7 125.7 807.0 124.4 807.7 123.8C808.4 123.1 808.8 122.8 809.0 122.6" stroke="#0f99e2" stroke-width="2.05" fill="none" stroke-linejoin="round"/><path d="M126.7 95.9C127.2 96.2 128.7 97.2 129.7 97.8C130.7 98.4 131.7 99.1 132.7 99.7C133.7 100.3 134.7 100.9 135.7 101.6C136.7 102.2 137.7 102.8 138.7 103.4C139.7 104.0 140.7 104.6 141.7 105.2C142.7 105.8 143.7 106.4 144.7 107.0C145.7 107.6 146.7 108.2 147.7 108.8C148.7 109.4 149.7 110.0 150.7 110.6C151.7 111.2 152.7 111.7 153.7 112.3C154.7 112.9 155.7 113.5 156.7 114.0C157.7 114.6 158.7 115.2 159.7 115.8C160.7 116.3 161.7 116.9 162.7 117.4C163.7 118.0 164.7 118.6 165.7 119.1C166.7 119.7 167.7 120.2 168.7 120.7C169.7 121.3 170.7 121.8 171.7 122.4C172.7 122.9 173.7 123.4 174.7 124.0C175.7 124.5 176.7 125.0 177.7 125.6C178.7 126.1 179.7 126.6 180.7 127.1C181.7 127.7 182.7 128.2 183.7 128.7C184.7 129.2 185.7 129.7 186.7 130.2C187.7 130.7 188.7 131.2 189.7 131.7C190.7 132.2 191.7 132.7 192.7 133.2C193.7 133.7 194.7 134.2 195.7 134.7C196.7 135.2 197.7 135.6 198.7 136.1C199.7 136.6 200.7 137.1 201.7 137.6C202.7 138.0 203.7 138.5 204.7 139.0C205.7 139.4 206.7 139.9 207.7 140.4C208.7 140.8 209.7 141.3 210.7 141.7C211.7 142.2 212.7 142.6 213.7 143.1C214.7 143.5 215.7 144.0 216.7 144.4C217.7 144.9 218.7 145.3 219.7 145.7C220.7 146.2 221.7 146.6 222.7 147.0C223.7 147.5 224.7 147.9 225.7 148.3C226.7 148.7 227.7 149.2 228.7 149.6C229.7 150.0 230.7 150.4 231.7 150.8C232.7 151.2 233.7 151.6 234.7 152.1C235.7 152.5 236.7 152.9 237.7 153.3C238.7 153.7 239.7 154.1 240.7 154.4C241.7 154.8 242.7 155.2 243.7 155.6C244.7 156.0 245.7 156.4 246.7 156.8C247.7 157.1 248.7 157.5 249.7 157.9C250.7 158.3 251.7 158.6 252.7 159.0C253.7 159.4 254.7 159.7 255.7 160.1C256.7 160.5 257.7 160.8 258.7 161.2C259.7 161.5 260.7 161.9 261.7 162.2C262.7 162.6 263.7 162.9 264.7 163.3C265.7 163.6 266.7 164.0 267.7 164.3C268.7 164.6 269.7 165.0 270.7 165.3C271.7 165.6 272.7 166.0 273.7 166.3C274.7 166.6 275.7 166.9 276.7 167.2C277.7 167.6 278.7 167.9 279.7 168.2C280.7 168.5 281.7 168.8 282.7 169.1C283.7 169.4 284.7 169.7 285.7 170.0C286.7 170.3 287.7 170.6 288.7 170.9C289.7 171.2 290.7 171.5 291.7 171.8C292.7 172.1 293.7 172.4 294.7 172.7C295.7 173.0 296.7 173.2 297.7 173.5C298.7 173.8 299.7 174.1 300.7 174.3C301.7 174.6 302.7 174.9 303.7 175.2C304.7 175.4 305.7 175.7 306.7 175.9C307.7 176.2 308.7 176.5 309.7 176.7C310.7 177.0 311.7 177.2 312.7 177.5C313.7 177.7 314.7 178.0 315.7 178.2C316.7 178.5 317.7 178.7 318.7 178.9C319.7 179.2 320.7 179.4 321.7 179.6C322.7 179.9 323.7 180.1 324.7 180.3C325.7 180.6 326.7 180.8 327.7 181.0C328.7 181.2 329.7 181.4 330.7 181.6C331.7 181.9 332.7 182.1 333.7 182.3C334.7 182.5 335.7 182.7 336.7 182.9C337.7 183.1 338.7 183.3 339.7 183.5C340.7 183.7 341.7 183.9 342.7 184.1C343.7 184.3 344.7 184.5 345.7 184.7C346.7 184.8 347.7 185.0 348.7 185.2C349.7 185.4 350.7 185.6 351.7 185.7C352.7 185.9 353.7 186.1 354.7 186.3C355.7 186.4 356.7 186.6 357.7 186.8C358.7 186.9 359.7 187.1 360.7 187.2C361.7 187.4 362.7 187.6 363.7 187.7C364.7 187.9 365.7 188.0 366.7 188.2C367.7 188.3 368.7 188.5 369.7 188.6C370.7 188.7 371.7 188.9 372.7 189.0C373.7 189.2 374.7 189.3 375.7 189.4C376.7 189.6 377.7 189.7 378.7 189.8C379.7 189.9 380.7 190.1 381.7 190.2C382.7 190.3 383.7 190.4 384.7 190.5C385.7 190.6 386.7 190.8 387.7 190.9C388.7 191.0 389.7 191.1 390.7 191.2C391.7 191.3 392.7 191.4 393.7 191.5C394.7 191.6 395.7 191.7 396.7 191.8C397.7 191.8 398.7 191.9 399.7 192.0C400.7 192.1 401.7 192.2 402.7 192.2C403.7 192.3 404.7 192.4 405.7 192.4C406.7 192.5 407.7 192.6 408.7 192.6C409.7 192.7 410.7 192.7 411.7 192.8C412.7 192.8 413.7 192.9 414.7 192.9C415.7 192.9 416.7 193.0 417.7 193.0C418.7 193.0 419.7 193.0 420.7 193.1C421.7 193.1 422.7 193.1 423.7 193.1C424.7 193.1 425.7 193.1 426.7 193.1C427.7 193.1 428.7 193.1 429.7 193.1C430.7 193.1 431.7 193.0 432.7 193.0C433.7 193.0 434.7 192.9 435.7 192.9C436.7 192.9 437.7 192.8 438.7 192.8C439.7 192.7 440.7 192.7 441.7 192.6C442.7 192.5 443.7 192.5 444.7 192.4C445.7 192.3 446.7 192.2 447.7 192.1C448.7 192.0 449.7 191.9 450.7 191.8C451.7 191.7 452.7 191.6 453.7 191.5C454.7 191.4 455.7 191.3 456.7 191.1C457.7 191.0 458.7 190.8 459.7 190.7C460.7 190.6 461.7 190.4 462.7 190.2C463.7 190.1 464.7 189.9 465.7 189.8C466.7 189.6 467.7 189.4 468.7 189.2C469.7 189.1 470.7 188.9 471.7 188.7C472.7 188.5 473.7 188.3 474.7 188.1C475.7 187.9 476.7 187.7 477.7 187.5C478.7 187.3 479.7 187.1 480.7 186.9C481.7 186.7 482.7 186.5 483.7 186.3C484.7 186.1 485.7 185.9 486.7 185.7C487.7 185.5 488.7 185.3 489.7 185.1C490.7 184.9 491.7 184.7 492.7 184.4C493.7 184.2 494.7 184.0 495.7 183.8C496.7 183.6 497.7 183.4 498.7 183.2C499.7 183.0 500.7 182.8 501.7 182.6C502.7 182.4 503.7 182.2 504.7 182.0C505.7 181.9 506.7 181.7 507.7 181.5C508.7 181.3 509.7 181.1 510.7 181.0C511.7 180.8 512.7 180.6 513.7 180.4C514.7 180.3 515.7 180.1 516.7 180.0C517.7 179.8 518.7 179.7 519.7 179.5C520.7 179.4 521.7 179.3 522.7 179.1C523.7 179.0 524.7 178.9 525.7 178.8C526.7 178.7 527.7 178.6 528.7 178.5C529.7 178.4 530.7 178.3 531.7 178.2C532.7 178.1 533.7 178.0 534.7 178.0C535.7 177.9 536.7 177.9 537.7 177.8C538.7 177.8 539.7 177.8 540.7 177.7C541.7 177.7 542.7 177.7 543.7 177.7C544.7 177.7 545.7 177.7 546.7 177.8C547.7 177.8 548.7 177.9 549.7 177.9C550.7 178.0 551.7 178.1 552.7 178.3C553.7 178.4 554.7 178.6 555.7 178.8C556.7 179.0 557.7 179.2 558.7 179.4C559.7 179.7 560.7 179.9 561.7 180.2C562.7 180.5 563.7 180.8 564.7 181.2C565.7 181.5 566.7 181.8 567.7 182.2C568.7 182.5 569.7 182.9 570.7 183.3C571.7 183.6 572.7 184.0 573.7 184.4C574.7 184.8 575.7 185.2 576.7 185.6C577.7 186.0 578.7 186.4 579.7 186.8C580.7 187.2 581.7 187.6 582.7 187.9C583.7 188.3 584.7 188.7 585.7 189.1C586.7 189.5 587.7 189.8 588.7 190.2C589.7 190.6 590.7 191.0 591.7 191.4C592.7 191.8 593.7 192.1 594.7 192.5C595.7 192.9 596.7 193.3 597.7 193.7C598.7 194.1 599.7 194.5 600.7 194.9C601.7 195.3 602.7 195.7 603.7 196.1C604.7 196.5 605.7 197.0 606.7 197.4C607.7 197.8 608.7 198.2 609.7 198.6C610.7 199.0 611.7 199.5 612.7 199.9C613.7 200.3 614.7 200.7 615.7 201.1C616.7 201.5 617.7 201.9 618.7 202.2C619.7 202.6 620.7 203.0 621.7 203.4C622.7 203.7 623.7 204.1 624.7 204.4C625.7 204.7 626.7 205.1 627.7 205.4C628.7 205.7 629.7 206.0 630.7 206.3C631.7 206.5 632.7 206.8 633.7 207.1C634.7 207.3 635.7 207.5 636.7 207.8C637.7 208.0 638.7 208.2 639.7 208.3C640.7 208.5 641.7 208.7 642.7 208.8C643.7 209.0 644.7 209.1 645.7 209.2C646.7 209.3 647.7 209.4 648.7 209.4C649.7 209.5 650.7 209.5 651.7 209.5C652.7 209.5 653.7 209.5 654.7 209.4C655.7 209.4 656.7 209.3 657.7 209.2C658.7 209.1 659.7 209.0 660.7 208.9C661.7 208.7 662.7 208.5 663.7 208.3C664.7 208.1 665.7 207.9 666.7 207.7C667.7 207.4 668.7 207.2 669.7 206.9C670.7 206.6 671.7 206.3 672.7 205.9C673.7 205.6 674.7 205.2 675.7 204.8C676.7 204.4 677.7 204.0 678.7 203.6C679.7 203.2 680.7 202.7 681.7 202.3C682.7 201.8 683.7 201.3 684.7 200.8C685.7 200.3 686.7 199.8 687.7 199.2C688.7 198.7 689.7 198.1 690.7 197.5C691.7 196.9 692.7 196.3 693.7 195.7C694.7 195.1 695.7 194.4 696.7 193.8C697.7 193.1 698.7 192.5 699.7 191.8C700.7 191.1 701.7 190.4 702.7 189.6C703.7 188.9 704.7 188.2 705.7 187.4C706.7 186.7 707.7 185.9 708.7 185.1C709.7 184.3 710.7 183.5 711.7 182.7C712.7 181.9 713.7 181.1 714.7 180.3C715.7 179.5 716.7 178.7 717.7 178.0C718.7 177.2 719.7 176.4 720.7 175.6C721.7 174.8 722.7 174.0 723.7 173.3C724.7 172.5 725.7 171.8 726.7 171.1C727.7 170.4 728.7 169.7 729.7 169.0C730.7 168.4 731.7 167.7 732.7 167.1C733.7 166.5 734.7 165.9 735.7 165.4C736.7 164.9 737.7 164.4 738.7 163.9C739.7 163.5 740.7 163.1 741.7 162.7C742.7 162.3 743.7 162.0 744.7 161.8C745.7 161.5 746.7 161.3 747.7 161.2C748.7 161.1 749.7 161.0 750.7 161.0C751.7 161.0 752.7 161.1 753.7 161.2C754.7 161.3 755.7 161.6 756.7 161.9C757.7 162.2 758.7 162.5 759.7 163.0C760.7 163.5 761.7 164.0 762.7 164.7C763.7 165.3 764.7 166.0 765.7 166.7C766.7 167.4 767.7 168.2 768.7 169.0C769.7 169.8 770.7 170.6 771.7 171.4C772.7 172.2 773.7 173.1 774.7 173.8C775.7 174.6 776.7 175.4 777.7 176.1C778.7 176.9 779.7 177.6 780.7 178.2C781.7 178.8 782.7 179.4 783.7 180.0C784.7 180.5 785.7 180.9 786.7 181.3C787.7 181.6 788.7 181.9 789.7 182.1C790.7 182.3 791.7 182.4 792.7 182.3C793.7 182.3 794.7 182.2 795.7 181.9C796.7 181.7 797.7 181.3 798.7 180.8C799.7 180.4 800.7 179.8 801.7 179.1C802.7 178.4 803.7 177.5 804.7 176.6C805.7 175.6 806.9 174.3 807.7 173.3C808.5 172.4 809.3 171.3 809.6 170.9" stroke="#0f99e2" stroke-width="2.05" fill="none" stroke-linejoin="round"/><path d="M126.8 116.6C127.3 116.9 128.8 117.9 129.8 118.5C130.8 119.2 131.8 119.8 132.8 120.5C133.8 121.1 134.8 121.7 135.8 122.4C136.8 123.0 137.8 123.6 138.8 124.3C139.8 124.9 140.8 125.5 141.8 126.1C142.8 126.8 143.8 127.4 144.8 128.0C145.8 128.6 146.8 129.2 147.8 129.8C148.8 130.4 149.8 131.0 150.8 131.6C151.8 132.2 152.8 132.8 153.8 133.4C154.8 134.0 155.8 134.6 156.8 135.2C157.8 135.8 158.8 136.3 159.8 136.9C160.8 137.5 161.8 138.1 162.8 138.6C163.8 139.2 164.8 139.8 165.8 140.4C166.8 140.9 167.8 141.5 168.8 142.0C169.8 142.6 170.8 143.2 171.8 143.7C172.8 144.3 173.8 144.8 174.8 145.4C175.8 145.9 176.8 146.4 177.8 147.0C178.8 147.5 179.8 148.1 180.8 148.6C181.8 149.1 182.8 149.7 183.8 150.2C184.8 150.7 185.8 151.2 186.8 151.8C187.8 152.3 188.8 152.8 189.8 153.3C190.8 153.8 191.8 154.3 192.8 154.8C193.8 155.3 194.8 155.9 195.8 156.4C196.8 156.9 197.8 157.4 198.8 157.8C199.8 158.3 200.8 158.8 201.8 159.3C202.8 159.8 203.8 160.3 204.8 160.8C205.8 161.3 206.8 161.7 207.8 162.2C208.8 162.7 209.8 163.2 210.8 163.6C211.8 164.1 212.8 164.6 213.8 165.0C214.8 165.5 215.8 166.0 216.8 166.4C217.8 166.9 218.8 167.3 219.8 167.8C220.8 168.2 221.8 168.7 222.8 169.1C223.8 169.6 224.8 170.0 225.8 170.4C226.8 170.9 227.8 171.3 228.8 171.7C229.8 172.2 230.8 172.6 231.8 173.0C232.8 173.5 233.8 173.9 234.8 174.3C235.8 174.7 236.8 175.1 237.8 175.5C238.8 176.0 239.8 176.4 240.8 176.8C241.8 177.2 242.8 177.6 243.8 178.0C244.8 178.4 245.8 178.8 246.8 179.2C247.8 179.6 248.8 180.0 249.8 180.4C250.8 180.7 251.8 181.1 252.8 181.5C253.8 181.9 254.8 182.3 255.8 182.7C256.8 183.0 257.8 183.4 258.8 183.8C259.8 184.1 260.8 184.5 261.8 184.9C262.8 185.2 263.8 185.6 264.8 186.0C265.8 186.3 266.8 186.7 267.8 187.0C268.8 187.4 269.8 187.7 270.8 188.1C271.8 188.4 272.8 188.8 273.8 189.1C274.8 189.5 275.8 189.8 276.8 190.2C277.8 190.5 278.8 190.8 279.8 191.2C280.8 191.5 281.8 191.8 282.8 192.1C283.8 192.5 284.8 192.8 285.8 193.1C286.8 193.4 287.8 193.8 288.8 194.1C289.8 194.4 290.8 194.7 291.8 195.0C292.8 195.3 293.8 195.6 294.8 195.9C295.8 196.2 296.8 196.5 297.8 196.8C298.8 197.1 299.8 197.4 300.8 197.7C301.8 198.0 302.8 198.3 303.8 198.6C304.8 198.9 305.8 199.2 306.8 199.5C307.8 199.8 308.8 200.1 309.8 200.3C310.8 200.6 311.8 200.9 312.8 201.2C313.8 201.4 314.8 201.7 315.8 202.0C316.8 202.3 317.8 202.5 318.8 202.8C319.8 203.1 320.8 203.3 321.8 203.6C322.8 203.9 323.8 204.1 324.8 204.4C325.8 204.6 326.8 204.9 327.8 205.1C328.8 205.4 329.8 205.6 330.8 205.9C331.8 206.1 332.8 206.4 333.8 206.6C334.8 206.9 335.8 207.1 336.8 207.3C337.8 207.6 338.8 207.8 339.8 208.1C340.8 208.3 341.8 208.5 342.8 208.8C343.8 209.0 344.8 209.2 345.8 209.4C346.8 209.7 347.8 209.9 348.8 210.1C349.8 210.3 350.8 210.6 351.8 210.8C352.8 211.0 353.8 211.2 354.8 211.4C355.8 211.6 356.8 211.9 357.8 212.1C358.8 212.3 359.8 212.5 360.8 212.7C361.8 212.9 362.8 213.1 363.8 213.3C364.8 213.5 365.8 213.7 366.8 213.9C367.8 214.1 368.8 214.3 369.8 214.5C370.8 214.7 371.8 214.9 372.8 215.1C373.8 215.3 374.8 215.4 375.8 215.6C376.8 215.8 377.8 216.0 378.8 216.2C379.8 216.4 380.8 216.6 381.8 216.7C382.8 216.9 383.8 217.1 384.8 217.3C385.8 217.4 386.8 217.6 387.8 217.8C388.8 218.0 389.8 218.1 390.8 218.3C391.8 218.4 392.8 218.6 393.8 218.8C394.8 218.9 395.8 219.1 396.8 219.2C397.8 219.3 398.8 219.5 399.8 219.6C400.8 219.8 401.8 219.9 402.8 220.0C403.8 220.1 404.8 220.2 405.8 220.4C406.8 220.5 407.8 220.6 408.8 220.7C409.8 220.8 410.8 220.8 411.8 220.9C412.8 221.0 413.8 221.1 414.8 221.1C415.8 221.2 416.8 221.3 417.8 221.3C418.8 221.4 419.8 221.4 420.8 221.4C421.8 221.5 422.8 221.5 423.8 221.5C424.8 221.5 425.8 221.5 426.8 221.5C427.8 221.5 428.8 221.5 429.8 221.4C430.8 221.4 431.8 221.4 432.8 221.3C433.8 221.3 434.8 221.2 435.8 221.2C436.8 221.1 437.8 221.0 438.8 221.0C439.8 220.9 440.8 220.8 441.8 220.7C442.8 220.6 443.8 220.5 444.8 220.4C445.8 220.3 446.8 220.2 447.8 220.1C448.8 220.0 449.8 219.8 450.8 219.7C451.8 219.6 452.8 219.4 453.8 219.3C454.8 219.2 455.8 219.0 456.8 218.9C457.8 218.7 458.8 218.6 459.8 218.4C460.8 218.2 461.8 218.1 462.8 217.9C463.8 217.7 464.8 217.6 465.8 217.4C466.8 217.2 467.8 217.1 468.8 216.9C469.8 216.7 470.8 216.5 471.8 216.3C472.8 216.2 473.8 216.0 474.8 215.8C475.8 215.6 476.8 215.4 477.8 215.2C478.8 215.0 479.8 214.8 480.8 214.7C481.8 214.5 482.8 214.3 483.8 214.1C484.8 213.9 485.8 213.7 486.8 213.5C487.8 213.4 488.8 213.2 489.8 213.0C490.8 212.8 491.8 212.6 492.8 212.5C493.8 212.3 494.8 212.1 495.8 211.9C496.8 211.8 497.8 211.6 498.8 211.4C499.8 211.2 500.8 211.1 501.8 210.9C502.8 210.8 503.8 210.6 504.8 210.4C505.8 210.3 506.8 210.1 507.8 210.0C508.8 209.8 509.8 209.7 510.8 209.5C511.8 209.4 512.8 209.2 513.8 209.1C514.8 209.0 515.8 208.8 516.8 208.7C517.8 208.6 518.8 208.4 519.8 208.3C520.8 208.2 521.8 208.1 522.8 208.0C523.8 207.8 524.8 207.7 525.8 207.6C526.8 207.5 527.8 207.4 528.8 207.3C529.8 207.3 530.8 207.2 531.8 207.1C532.8 207.0 533.8 207.0 534.8 206.9C535.8 206.9 536.8 206.8 537.8 206.8C538.8 206.7 539.8 206.7 540.8 206.7C541.8 206.7 542.8 206.7 543.8 206.7C544.8 206.7 545.8 206.7 546.8 206.7C547.8 206.8 548.8 206.8 549.8 206.9C550.8 206.9 551.8 207.0 552.8 207.1C553.8 207.2 554.8 207.3 555.8 207.4C556.8 207.5 557.8 207.6 558.8 207.8C559.8 207.9 560.8 208.1 561.8 208.2C562.8 208.4 563.8 208.6 564.8 208.8C565.8 209.0 566.8 209.2 567.8 209.5C568.8 209.7 569.8 209.9 570.8 210.2C571.8 210.4 572.8 210.7 573.8 211.0C574.8 211.3 575.8 211.6 576.8 211.9C577.8 212.2 578.8 212.5 579.8 212.8C580.8 213.1 581.8 213.4 582.8 213.8C583.8 214.1 584.8 214.4 585.8 214.8C586.8 215.1 587.8 215.5 588.8 215.9C589.8 216.2 590.8 216.6 591.8 217.0C592.8 217.4 593.8 217.7 594.8 218.1C595.8 218.5 596.8 218.9 597.8 219.3C598.8 219.7 599.8 220.1 600.8 220.5C601.8 220.9 602.8 221.3 603.8 221.7C604.8 222.1 605.8 222.5 606.8 222.9C607.8 223.3 608.8 223.7 609.8 224.1C610.8 224.5 611.8 224.9 612.8 225.3C613.8 225.7 614.8 226.1 615.8 226.5C616.8 226.8 617.8 227.2 618.8 227.6C619.8 228.0 620.8 228.3 621.8 228.7C622.8 229.0 623.8 229.4 624.8 229.7C625.8 230.1 626.8 230.4 627.8 230.7C628.8 231.0 629.8 231.3 630.8 231.6C631.8 231.9 632.8 232.2 633.8 232.5C634.8 232.7 635.8 233.0 636.8 233.2C637.8 233.4 638.8 233.6 639.8 233.8C640.8 234.0 641.8 234.2 642.8 234.4C643.8 234.5 644.8 234.7 645.8 234.8C646.8 234.9 647.8 235.0 648.8 235.1C649.8 235.2 650.8 235.3 651.8 235.3C652.8 235.4 653.8 235.4 654.8 235.4C655.8 235.5 656.8 235.5 657.8 235.4C658.8 235.4 659.8 235.4 660.8 235.3C661.8 235.2 662.8 235.2 663.8 235.1C664.8 235.0 665.8 234.8 666.8 234.7C667.8 234.6 668.8 234.4 669.8 234.2C670.8 234.1 671.8 233.9 672.8 233.6C673.8 233.4 674.8 233.2 675.8 232.9C676.8 232.7 677.8 232.4 678.8 232.1C679.8 231.8 680.8 231.5 681.8 231.1C682.8 230.8 683.8 230.4 684.8 230.0C685.8 229.6 686.8 229.1 687.8 228.7C688.8 228.2 689.8 227.7 690.8 227.2C691.8 226.7 692.8 226.2 693.8 225.6C694.8 225.0 695.8 224.4 696.8 223.8C697.8 223.1 698.8 222.5 699.8 221.8C700.8 221.1 701.8 220.3 702.8 219.6C703.8 218.8 704.8 218.0 705.8 217.2C706.8 216.4 707.8 215.6 708.8 214.7C709.8 213.9 710.8 213.0 711.8 212.2C712.8 211.3 713.8 210.4 714.8 209.5C715.8 208.6 716.8 207.7 717.8 206.8C718.8 205.9 719.8 205.0 720.8 204.1C721.8 203.2 722.8 202.3 723.8 201.4C724.8 200.6 725.8 199.7 726.8 198.9C727.8 198.0 728.8 197.2 729.8 196.4C730.8 195.7 731.8 194.9 732.8 194.2C733.8 193.5 734.8 192.9 735.8 192.3C736.8 191.7 737.8 191.2 738.8 190.8C739.8 190.3 740.8 189.9 741.8 189.6C742.8 189.3 743.8 189.0 744.8 188.8C745.8 188.7 746.8 188.6 747.8 188.6C748.8 188.5 749.8 188.6 750.8 188.8C751.8 188.9 752.8 189.2 753.8 189.4C754.8 189.7 755.8 190.1 756.8 190.5C757.8 191.0 758.8 191.4 759.8 192.0C760.8 192.5 761.8 193.1 762.8 193.7C763.8 194.3 764.8 195.0 765.8 195.7C766.8 196.4 767.8 197.2 768.8 197.9C769.8 198.7 770.8 199.5 771.8 200.3C772.8 201.1 773.8 202.0 774.8 202.8C775.8 203.6 776.8 204.5 777.8 205.3C778.8 206.1 779.8 206.9 780.8 207.7C781.8 208.5 782.8 209.2 783.8 209.9C784.8 210.6 785.8 211.3 786.8 211.8C787.8 212.4 788.8 212.9 789.8 213.4C790.8 213.8 791.8 214.1 792.8 214.3C793.8 214.5 794.8 214.7 795.8 214.7C796.8 214.6 797.8 214.5 798.8 214.2C799.8 214.0 800.8 213.6 801.8 213.0C802.8 212.4 803.8 211.7 804.8 210.7C805.8 209.8 807.0 208.4 807.8 207.4C808.6 206.4 809.3 205.3 809.6 204.9" stroke="#0f99e2" stroke-width="2.05" fill="none" stroke-linejoin="round"/><path d="M126.8 135.4C127.3 135.8 128.8 136.9 129.8 137.6C130.8 138.4 131.8 139.1 132.8 139.9C133.8 140.6 134.8 141.3 135.8 142.0C136.8 142.7 137.8 143.5 138.8 144.2C139.8 144.9 140.8 145.6 141.8 146.3C142.8 147.0 143.8 147.7 144.8 148.4C145.8 149.1 146.8 149.8 147.8 150.5C148.8 151.1 149.8 151.8 150.8 152.5C151.8 153.2 152.8 153.9 153.8 154.5C154.8 155.2 155.8 155.9 156.8 156.5C157.8 157.2 158.8 157.8 159.8 158.5C160.8 159.1 161.8 159.8 162.8 160.4C163.8 161.1 164.8 161.7 165.8 162.3C166.8 163.0 167.8 163.6 168.8 164.2C169.8 164.9 170.8 165.5 171.8 166.1C172.8 166.7 173.8 167.3 174.8 167.9C175.8 168.5 176.8 169.2 177.8 169.8C178.8 170.4 179.8 171.0 180.8 171.5C181.8 172.1 182.8 172.7 183.8 173.3C184.8 173.9 185.8 174.5 186.8 175.1C187.8 175.6 188.8 176.2 189.8 176.8C190.8 177.4 191.8 177.9 192.8 178.5C193.8 179.0 194.8 179.6 195.8 180.2C196.8 180.7 197.8 181.3 198.8 181.8C199.8 182.4 200.8 182.9 201.8 183.4C202.8 184.0 203.8 184.5 204.8 185.0C205.8 185.6 206.8 186.1 207.8 186.6C208.8 187.1 209.8 187.7 210.8 188.2C211.8 188.7 212.8 189.2 213.8 189.7C214.8 190.2 215.8 190.7 216.8 191.2C217.8 191.7 218.8 192.2 219.8 192.7C220.8 193.2 221.8 193.7 222.8 194.2C223.8 194.7 224.8 195.2 225.8 195.6C226.8 196.1 227.8 196.6 228.8 197.1C229.8 197.5 230.8 198.0 231.8 198.5C232.8 198.9 233.8 199.4 234.8 199.8C235.8 200.3 236.8 200.8 237.8 201.2C238.8 201.7 239.8 202.1 240.8 202.5C241.8 203.0 242.8 203.4 243.8 203.9C244.8 204.3 245.8 204.7 246.8 205.2C247.8 205.6 248.8 206.0 249.8 206.4C250.8 206.9 251.8 207.3 252.8 207.7C253.8 208.1 254.8 208.5 255.8 208.9C256.8 209.3 257.8 209.7 258.8 210.1C259.8 210.6 260.8 211.0 261.8 211.3C262.8 211.7 263.8 212.1 264.8 212.5C265.8 212.9 266.8 213.3 267.8 213.7C268.8 214.1 269.8 214.4 270.8 214.8C271.8 215.2 272.8 215.6 273.8 215.9C274.8 216.3 275.8 216.7 276.8 217.0C277.8 217.4 278.8 217.8 279.8 218.1C280.8 218.5 281.8 218.8 282.8 219.2C283.8 219.5 284.8 219.9 285.8 220.2C286.8 220.6 287.8 220.9 288.8 221.2C289.8 221.6 290.8 221.9 291.8 222.3C292.8 222.6 293.8 222.9 294.8 223.2C295.8 223.6 296.8 223.9 297.8 224.2C298.8 224.5 299.8 224.9 300.8 225.2C301.8 225.5 302.8 225.8 303.8 226.1C304.8 226.4 305.8 226.7 306.8 227.0C307.8 227.3 308.8 227.6 309.8 227.9C310.8 228.2 311.8 228.5 312.8 228.8C313.8 229.1 314.8 229.4 315.8 229.7C316.8 230.0 317.8 230.2 318.8 230.5C319.8 230.8 320.8 231.1 321.8 231.3C322.8 231.6 323.8 231.9 324.8 232.2C325.8 232.4 326.8 232.7 327.8 233.0C328.8 233.2 329.8 233.5 330.8 233.7C331.8 234.0 332.8 234.3 333.8 234.5C334.8 234.8 335.8 235.0 336.8 235.3C337.8 235.5 338.8 235.8 339.8 236.0C340.8 236.2 341.8 236.5 342.8 236.7C343.8 237.0 344.8 237.2 345.8 237.4C346.8 237.7 347.8 237.9 348.8 238.1C349.8 238.3 350.8 238.6 351.8 238.8C352.8 239.0 353.8 239.2 354.8 239.5C355.8 239.7 356.8 239.9 357.8 240.1C358.8 240.3 359.8 240.5 360.8 240.7C361.8 241.0 362.8 241.2 363.8 241.4C364.8 241.6 365.8 241.8 366.8 242.0C367.8 242.2 368.8 242.4 369.8 242.6C370.8 242.8 371.8 243.0 372.8 243.2C373.8 243.4 374.8 243.6 375.8 243.8C376.8 244.0 377.8 244.2 378.8 244.4C379.8 244.6 380.8 244.8 381.8 245.0C382.8 245.2 383.8 245.4 384.8 245.5C385.8 245.7 386.8 245.9 387.8 246.1C388.8 246.3 389.8 246.5 390.8 246.6C391.8 246.8 392.8 247.0 393.8 247.2C394.8 247.3 395.8 247.5 396.8 247.6C397.8 247.8 398.8 248.0 399.8 248.1C400.8 248.3 401.8 248.4 402.8 248.5C403.8 248.7 404.8 248.8 405.8 248.9C406.8 249.0 407.8 249.1 408.8 249.2C409.8 249.4 410.8 249.5 411.8 249.5C412.8 249.6 413.8 249.7 414.8 249.8C415.8 249.8 416.8 249.9 417.8 249.9C418.8 250.0 419.8 250.0 420.8 250.1C421.8 250.1 422.8 250.1 423.8 250.1C424.8 250.1 425.8 250.1 426.8 250.1C427.8 250.1 428.8 250.0 429.8 250.0C430.8 250.0 431.8 249.9 432.8 249.8C433.8 249.8 434.8 249.7 435.8 249.6C436.8 249.6 437.8 249.5 438.8 249.4C439.8 249.3 440.8 249.2 441.8 249.1C442.8 249.0 443.8 248.8 444.8 248.7C445.8 248.6 446.8 248.5 447.8 248.3C448.8 248.2 449.8 248.0 450.8 247.9C451.8 247.7 452.8 247.6 453.8 247.4C454.8 247.3 455.8 247.1 456.8 246.9C457.8 246.7 458.8 246.6 459.8 246.4C460.8 246.2 461.8 246.0 462.8 245.9C463.8 245.7 464.8 245.5 465.8 245.3C466.8 245.1 467.8 244.9 468.8 244.7C469.8 244.5 470.8 244.3 471.8 244.1C472.8 243.9 473.8 243.8 474.8 243.6C475.8 243.4 476.8 243.2 477.8 243.0C478.8 242.8 479.8 242.6 480.8 242.4C481.8 242.2 482.8 242.0 483.8 241.8C484.8 241.6 485.8 241.4 486.8 241.2C487.8 241.1 488.8 240.9 489.8 240.7C490.8 240.5 491.8 240.3 492.8 240.2C493.8 240.0 494.8 239.8 495.8 239.7C496.8 239.5 497.8 239.3 498.8 239.2C499.8 239.0 500.8 238.9 501.8 238.7C502.8 238.6 503.8 238.4 504.8 238.3C505.8 238.1 506.8 238.0 507.8 237.9C508.8 237.7 509.8 237.6 510.8 237.5C511.8 237.3 512.8 237.2 513.8 237.1C514.8 237.0 515.8 236.9 516.8 236.8C517.8 236.7 518.8 236.6 519.8 236.5C520.8 236.4 521.8 236.3 522.8 236.2C523.8 236.1 524.8 236.1 525.8 236.0C526.8 235.9 527.8 235.9 528.8 235.8C529.8 235.7 530.8 235.7 531.8 235.6C532.8 235.6 533.8 235.6 534.8 235.5C535.8 235.5 536.8 235.5 537.8 235.4C538.8 235.4 539.8 235.4 540.8 235.4C541.8 235.4 542.8 235.4 543.8 235.4C544.8 235.4 545.8 235.4 546.8 235.4C547.8 235.5 548.8 235.5 549.8 235.5C550.8 235.6 551.8 235.6 552.8 235.6C553.8 235.7 554.8 235.8 555.8 235.8C556.8 235.9 557.8 236.0 558.8 236.0C559.8 236.1 560.8 236.2 561.8 236.3C562.8 236.4 563.8 236.5 564.8 236.6C565.8 236.8 566.8 236.9 567.8 237.0C568.8 237.1 569.8 237.3 570.8 237.4C571.8 237.6 572.8 237.7 573.8 237.9C574.8 238.1 575.8 238.3 576.8 238.4C577.8 238.6 578.8 238.8 579.8 239.0C580.8 239.2 581.8 239.4 582.8 239.6C583.8 239.9 584.8 240.1 585.8 240.3C586.8 240.5 587.8 240.8 588.8 241.0C589.8 241.3 590.8 241.5 591.8 241.8C592.8 242.0 593.8 242.3 594.8 242.5C595.8 242.8 596.8 243.1 597.8 243.4C598.8 243.6 599.8 243.9 600.8 244.2C601.8 244.5 602.8 244.8 603.8 245.1C604.8 245.4 605.8 245.7 606.8 246.0C607.8 246.3 608.8 246.6 609.8 246.9C610.8 247.2 611.8 247.6 612.8 247.9C613.8 248.2 614.8 248.5 615.8 248.9C616.8 249.2 617.8 249.5 618.8 249.9C619.8 250.2 620.8 250.5 621.8 250.9C622.8 251.2 623.8 251.6 624.8 251.9C625.8 252.2 626.8 252.6 627.8 252.9C628.8 253.3 629.8 253.6 630.8 253.9C631.8 254.3 632.8 254.6 633.8 254.9C634.8 255.2 635.8 255.5 636.8 255.8C637.8 256.2 638.8 256.5 639.8 256.7C640.8 257.0 641.8 257.3 642.8 257.6C643.8 257.8 644.8 258.1 645.8 258.3C646.8 258.6 647.8 258.8 648.8 259.0C649.8 259.2 650.8 259.4 651.8 259.5C652.8 259.7 653.8 259.9 654.8 260.0C655.8 260.1 656.8 260.2 657.8 260.3C658.8 260.4 659.8 260.5 660.8 260.5C661.8 260.5 662.8 260.5 663.8 260.5C664.8 260.5 665.8 260.5 666.8 260.4C667.8 260.4 668.8 260.3 669.8 260.2C670.8 260.1 671.8 260.0 672.8 259.8C673.8 259.6 674.8 259.5 675.8 259.2C676.8 259.0 677.8 258.8 678.8 258.5C679.8 258.3 680.8 258.0 681.8 257.6C682.8 257.3 683.8 257.0 684.8 256.6C685.8 256.2 686.8 255.8 687.8 255.4C688.8 254.9 689.8 254.5 690.8 254.0C691.8 253.5 692.8 252.9 693.8 252.4C694.8 251.9 695.8 251.3 696.8 250.7C697.8 250.1 698.8 249.5 699.8 248.8C700.8 248.2 701.8 247.5 702.8 246.8C703.8 246.1 704.8 245.4 705.8 244.7C706.8 244.0 707.8 243.2 708.8 242.4C709.8 241.7 710.8 240.9 711.8 240.1C712.8 239.3 713.8 238.5 714.8 237.6C715.8 236.8 716.8 236.0 717.8 235.2C718.8 234.4 719.8 233.6 720.8 232.8C721.8 232.0 722.8 231.2 723.8 230.4C724.8 229.7 725.8 228.9 726.8 228.2C727.8 227.4 728.8 226.7 729.8 226.0C730.8 225.3 731.8 224.7 732.8 224.1C733.8 223.4 734.8 222.8 735.8 222.3C736.8 221.7 737.8 221.2 738.8 220.8C739.8 220.3 740.8 219.9 741.8 219.5C742.8 219.1 743.8 218.8 744.8 218.6C745.8 218.3 746.8 218.1 747.8 218.0C748.8 217.9 749.8 217.8 750.8 217.8C751.8 217.8 752.8 217.9 753.8 218.1C754.8 218.2 755.8 218.4 756.8 218.8C757.8 219.1 758.8 219.5 759.8 220.0C760.8 220.5 761.8 221.0 762.8 221.7C763.8 222.3 764.8 223.0 765.8 223.8C766.8 224.6 767.8 225.4 768.8 226.3C769.8 227.2 770.8 228.1 771.8 229.1C772.8 230.1 773.8 231.1 774.8 232.1C775.8 233.1 776.8 234.1 777.8 235.1C778.8 236.1 779.8 237.1 780.8 238.0C781.8 239.0 782.8 239.9 783.8 240.7C784.8 241.4 785.8 242.2 786.8 242.8C787.8 243.3 788.8 243.8 789.8 244.2C790.8 244.5 791.8 244.7 792.8 244.7C793.8 244.7 794.8 244.6 795.8 244.3C796.8 244.0 797.8 243.6 798.8 243.0C799.8 242.5 800.8 241.8 801.8 241.1C802.8 240.3 803.8 239.5 804.8 238.5C805.8 237.6 806.8 236.5 807.8 235.5C808.8 234.4 810.2 232.7 810.7 232.2" stroke="#0f99e2" stroke-width="2.05" fill="none" stroke-linejoin="round"/><path d="M129.1 152.4C129.6 152.8 131.1 153.9 132.1 154.7C133.1 155.4 134.1 156.2 135.1 156.9C136.1 157.7 137.1 158.5 138.1 159.2C139.1 160.0 140.1 160.7 141.1 161.5C142.1 162.3 143.1 163.0 144.1 163.8C145.1 164.6 146.1 165.3 147.1 166.1C148.1 166.8 149.1 167.6 150.1 168.4C151.1 169.1 152.1 169.9 153.1 170.6C154.1 171.4 155.1 172.1 156.1 172.9C157.1 173.6 158.1 174.4 159.1 175.1C160.1 175.8 161.1 176.6 162.1 177.3C163.1 178.0 164.1 178.8 165.1 179.5C166.1 180.2 167.1 180.9 168.1 181.6C169.1 182.3 170.1 183.0 171.1 183.7C172.1 184.4 173.1 185.1 174.1 185.8C175.1 186.5 176.1 187.1 177.1 187.8C178.1 188.5 179.1 189.1 180.1 189.8C181.1 190.4 182.1 191.0 183.1 191.7C184.1 192.3 185.1 192.9 186.1 193.5C187.1 194.1 188.1 194.7 189.1 195.3C190.1 195.9 191.1 196.5 192.1 197.0C193.1 197.6 194.1 198.1 195.1 198.7C196.1 199.2 197.1 199.7 198.1 200.3C199.1 200.8 200.1 201.3 201.1 201.8C202.1 202.3 203.1 202.8 204.1 203.3C205.1 203.8 206.1 204.3 207.1 204.8C208.1 205.3 209.1 205.7 210.1 206.2C211.1 206.7 212.1 207.2 213.1 207.7C214.1 208.2 215.1 208.7 216.1 209.2C217.1 209.7 218.1 210.2 219.1 210.7C220.1 211.2 221.1 211.8 222.1 212.3C223.1 212.8 224.1 213.3 225.1 213.9C226.1 214.4 227.1 214.9 228.1 215.5C229.1 216.0 230.1 216.6 231.1 217.1C232.1 217.6 233.1 218.2 234.1 218.7C235.1 219.2 236.1 219.7 237.1 220.3C238.1 220.8 239.1 221.3 240.1 221.8C241.1 222.3 242.1 222.8 243.1 223.3C244.1 223.8 245.1 224.3 246.1 224.8C247.1 225.3 248.1 225.8 249.1 226.3C250.1 226.7 251.1 227.2 252.1 227.7C253.1 228.1 254.1 228.6 255.1 229.1C256.1 229.5 257.1 230.0 258.1 230.4C259.1 230.9 260.1 231.3 261.1 231.7C262.1 232.2 263.1 232.6 264.1 233.0C265.1 233.5 266.1 233.9 267.1 234.3C268.1 234.7 269.1 235.1 270.1 235.5C271.1 235.9 272.1 236.3 273.1 236.7C274.1 237.1 275.1 237.5 276.1 237.9C277.1 238.3 278.1 238.7 279.1 239.1C280.1 239.5 281.1 239.8 282.1 240.2C283.1 240.6 284.1 241.0 285.1 241.3C286.1 241.7 287.1 242.1 288.1 242.4C289.1 242.8 290.1 243.1 291.1 243.5C292.1 243.8 293.1 244.2 294.1 244.5C295.1 244.9 296.1 245.2 297.1 245.6C298.1 245.9 299.1 246.2 300.1 246.6C301.1 246.9 302.1 247.2 303.1 247.6C304.1 247.9 305.1 248.2 306.1 248.5C307.1 248.9 308.1 249.2 309.1 249.5C310.1 249.8 311.1 250.1 312.1 250.4C313.1 250.8 314.1 251.1 315.1 251.4C316.1 251.7 317.1 252.0 318.1 252.3C319.1 252.6 320.1 252.9 321.1 253.2C322.1 253.5 323.1 253.8 324.1 254.1C325.1 254.4 326.1 254.7 327.1 255.0C328.1 255.3 329.1 255.6 330.1 255.8C331.1 256.1 332.1 256.4 333.1 256.7C334.1 257.0 335.1 257.3 336.1 257.6C337.1 257.8 338.1 258.1 339.1 258.4C340.1 258.7 341.1 259.0 342.1 259.3C343.1 259.5 344.1 259.8 345.1 260.1C346.1 260.4 347.1 260.6 348.1 260.9C349.1 261.2 350.1 261.5 351.1 261.7C352.1 262.0 353.1 262.3 354.1 262.6C355.1 262.9 356.1 263.1 357.1 263.4C358.1 263.7 359.1 263.9 360.1 264.2C361.1 264.5 362.1 264.8 363.1 265.0C364.1 265.3 365.1 265.6 366.1 265.9C367.1 266.1 368.1 266.4 369.1 266.7C370.1 267.0 371.1 267.2 372.1 267.5C373.1 267.8 374.1 268.0 375.1 268.3C376.1 268.6 377.1 268.8 378.1 269.1C379.1 269.4 380.1 269.6 381.1 269.9C382.1 270.1 383.1 270.4 384.1 270.6C385.1 270.9 386.1 271.1 387.1 271.4C388.1 271.6 389.1 271.8 390.1 272.1C391.1 272.3 392.1 272.5 393.1 272.7C394.1 273.0 395.1 273.2 396.1 273.4C397.1 273.6 398.1 273.8 399.1 274.0C400.1 274.2 401.1 274.4 402.1 274.6C403.1 274.8 404.1 275.0 405.1 275.1C406.1 275.3 407.1 275.5 408.1 275.6C409.1 275.8 410.1 275.9 411.1 276.1C412.1 276.2 413.1 276.4 414.1 276.5C415.1 276.6 416.1 276.7 417.1 276.9C418.1 277.0 419.1 277.1 420.1 277.2C421.1 277.2 422.1 277.3 423.1 277.4C424.1 277.5 425.1 277.5 426.1 277.6C427.1 277.6 428.1 277.7 429.1 277.7C430.1 277.7 431.1 277.8 432.1 277.8C433.1 277.8 434.1 277.8 435.1 277.8C436.1 277.7 437.1 277.7 438.1 277.7C439.1 277.6 440.1 277.6 441.1 277.6C442.1 277.5 443.1 277.4 444.1 277.4C445.1 277.3 446.1 277.2 447.1 277.1C448.1 277.0 449.1 276.9 450.1 276.8C451.1 276.7 452.1 276.6 453.1 276.5C454.1 276.4 455.1 276.3 456.1 276.1C457.1 276.0 458.1 275.9 459.1 275.7C460.1 275.6 461.1 275.4 462.1 275.3C463.1 275.1 464.1 275.0 465.1 274.8C466.1 274.6 467.1 274.5 468.1 274.3C469.1 274.1 470.1 273.9 471.1 273.8C472.1 273.6 473.1 273.4 474.1 273.2C475.1 273.1 476.1 272.9 477.1 272.7C478.1 272.5 479.1 272.3 480.1 272.1C481.1 271.9 482.1 271.7 483.1 271.5C484.1 271.4 485.1 271.2 486.1 271.0C487.1 270.8 488.1 270.6 489.1 270.4C490.1 270.2 491.1 270.0 492.1 269.8C493.1 269.6 494.1 269.4 495.1 269.3C496.1 269.1 497.1 268.9 498.1 268.7C499.1 268.5 500.1 268.4 501.1 268.2C502.1 268.0 503.1 267.8 504.1 267.7C505.1 267.5 506.1 267.3 507.1 267.2C508.1 267.0 509.1 266.9 510.1 266.7C511.1 266.6 512.1 266.4 513.1 266.3C514.1 266.1 515.1 266.0 516.1 265.8C517.1 265.7 518.1 265.6 519.1 265.5C520.1 265.3 521.1 265.2 522.1 265.1C523.1 265.0 524.1 264.9 525.1 264.8C526.1 264.7 527.1 264.6 528.1 264.5C529.1 264.4 530.1 264.3 531.1 264.3C532.1 264.2 533.1 264.1 534.1 264.0C535.1 264.0 536.1 263.9 537.1 263.9C538.1 263.8 539.1 263.8 540.1 263.7C541.1 263.7 542.1 263.7 543.1 263.7C544.1 263.6 545.1 263.6 546.1 263.6C547.1 263.6 548.1 263.6 549.1 263.6C550.1 263.6 551.1 263.7 552.1 263.7C553.1 263.7 554.1 263.7 555.1 263.8C556.1 263.8 557.1 263.9 558.1 263.9C559.1 264.0 560.1 264.1 561.1 264.2C562.1 264.2 563.1 264.3 564.1 264.4C565.1 264.5 566.1 264.6 567.1 264.7C568.1 264.9 569.1 265.0 570.1 265.1C571.1 265.3 572.1 265.4 573.1 265.6C574.1 265.7 575.1 265.9 576.1 266.1C577.1 266.3 578.1 266.4 579.1 266.6C580.1 266.8 581.1 267.1 582.1 267.3C583.1 267.5 584.1 267.7 585.1 268.0C586.1 268.2 587.1 268.5 588.1 268.7C589.1 269.0 590.1 269.3 591.1 269.6C592.1 269.8 593.1 270.1 594.1 270.4C595.1 270.7 596.1 271.0 597.1 271.3C598.1 271.6 599.1 272.0 600.1 272.3C601.1 272.6 602.1 272.9 603.1 273.3C604.1 273.6 605.1 273.9 606.1 274.3C607.1 274.6 608.1 275.0 609.1 275.3C610.1 275.7 611.1 276.0 612.1 276.4C613.1 276.8 614.1 277.1 615.1 277.5C616.1 277.9 617.1 278.2 618.1 278.6C619.1 279.0 620.1 279.3 621.1 279.7C622.1 280.1 623.1 280.4 624.1 280.8C625.1 281.2 626.1 281.5 627.1 281.9C628.1 282.3 629.1 282.6 630.1 283.0C631.1 283.3 632.1 283.7 633.1 284.1C634.1 284.4 635.1 284.8 636.1 285.1C637.1 285.4 638.1 285.8 639.1 286.1C640.1 286.4 641.1 286.7 642.1 287.0C643.1 287.3 644.1 287.6 645.1 287.9C646.1 288.2 647.1 288.4 648.1 288.7C649.1 288.9 650.1 289.1 651.1 289.3C652.1 289.5 653.1 289.7 654.1 289.8C655.1 289.9 656.1 290.0 657.1 290.1C658.1 290.2 659.1 290.3 660.1 290.3C661.1 290.3 662.1 290.3 663.1 290.3C664.1 290.2 665.1 290.2 666.1 290.0C667.1 289.9 668.1 289.8 669.1 289.6C670.1 289.4 671.1 289.2 672.1 289.0C673.1 288.7 674.1 288.5 675.1 288.2C676.1 287.9 677.1 287.6 678.1 287.2C679.1 286.8 680.1 286.5 681.1 286.0C682.1 285.6 683.1 285.2 684.1 284.7C685.1 284.3 686.1 283.8 687.1 283.3C688.1 282.8 689.1 282.2 690.1 281.7C691.1 281.1 692.1 280.5 693.1 279.9C694.1 279.3 695.1 278.7 696.1 278.1C697.1 277.4 698.1 276.8 699.1 276.1C700.1 275.4 701.1 274.7 702.1 274.0C703.1 273.3 704.1 272.6 705.1 271.8C706.1 271.1 707.1 270.3 708.1 269.6C709.1 268.8 710.1 268.0 711.1 267.2C712.1 266.4 713.1 265.6 714.1 264.8C715.1 263.9 716.1 263.1 717.1 262.3C718.1 261.4 719.1 260.6 720.1 259.8C721.1 258.9 722.1 258.1 723.1 257.2C724.1 256.4 725.1 255.5 726.1 254.7C727.1 253.9 728.1 253.0 729.1 252.2C730.1 251.4 731.1 250.6 732.1 249.9C733.1 249.1 734.1 248.4 735.1 247.8C736.1 247.1 737.1 246.5 738.1 246.0C739.1 245.5 740.1 245.0 741.1 244.7C742.1 244.3 743.1 244.0 744.1 243.9C745.1 243.7 746.1 243.6 747.1 243.6C748.1 243.6 749.1 243.6 750.1 243.8C751.1 244.0 752.1 244.2 753.1 244.5C754.1 244.8 755.1 245.2 756.1 245.7C757.1 246.1 758.1 246.7 759.1 247.3C760.1 247.9 761.1 248.5 762.1 249.3C763.1 250.0 764.1 250.8 765.1 251.7C766.1 252.6 767.1 253.5 768.1 254.5C769.1 255.4 770.1 256.5 771.1 257.5C772.1 258.5 773.1 259.5 774.1 260.5C775.1 261.5 776.1 262.6 777.1 263.5C778.1 264.5 779.1 265.4 780.1 266.3C781.1 267.1 782.1 268.0 783.1 268.7C784.1 269.4 785.1 270.1 786.1 270.6C787.1 271.1 788.1 271.6 789.1 271.9C790.1 272.2 791.1 272.3 792.1 272.3C793.1 272.3 794.1 272.2 795.1 271.9C796.1 271.6 797.1 271.1 798.1 270.4C799.1 269.8 800.1 268.9 801.1 267.9C802.1 266.9 803.1 265.6 804.1 264.2C805.1 262.8 806.3 260.8 807.1 259.3C807.9 257.9 808.7 256.2 809.0 255.6" stroke="#0f99e2" stroke-width="2.05" fill="none" stroke-linejoin="round"/><path d="M126.8 166.6C127.3 166.9 128.8 168.0 129.8 168.7C130.8 169.4 131.8 170.2 132.8 171.0C133.8 171.8 134.8 172.6 135.8 173.5C136.8 174.3 137.8 175.2 138.8 176.0C139.8 176.9 140.8 177.8 141.8 178.6C142.8 179.5 143.8 180.4 144.8 181.3C145.8 182.2 146.8 183.0 147.8 183.9C148.8 184.8 149.8 185.6 150.8 186.5C151.8 187.3 152.8 188.1 153.8 188.9C154.8 189.7 155.8 190.5 156.8 191.2C157.8 192.0 158.8 192.7 159.8 193.4C160.8 194.1 161.8 194.7 162.8 195.4C163.8 196.1 164.8 196.7 165.8 197.3C166.8 198.0 167.8 198.6 168.8 199.2C169.8 199.8 170.8 200.4 171.8 201.0C172.8 201.6 173.8 202.2 174.8 202.9C175.8 203.5 176.8 204.1 177.8 204.7C178.8 205.3 179.8 205.9 180.8 206.5C181.8 207.2 182.8 207.8 183.8 208.4C184.8 209.0 185.8 209.7 186.8 210.3C187.8 210.9 188.8 211.6 189.8 212.2C190.8 212.9 191.8 213.5 192.8 214.2C193.8 214.8 194.8 215.4 195.8 216.1C196.8 216.7 197.8 217.4 198.8 218.0C199.8 218.7 200.8 219.3 201.8 220.0C202.8 220.6 203.8 221.3 204.8 221.9C205.8 222.6 206.8 223.2 207.8 223.9C208.8 224.5 209.8 225.1 210.8 225.8C211.8 226.4 212.8 227.1 213.8 227.7C214.8 228.3 215.8 229.0 216.8 229.6C217.8 230.2 218.8 230.8 219.8 231.5C220.8 232.1 221.8 232.7 222.8 233.3C223.8 233.9 224.8 234.5 225.8 235.1C226.8 235.7 227.8 236.3 228.8 236.9C229.8 237.5 230.8 238.0 231.8 238.6C232.8 239.2 233.8 239.7 234.8 240.3C235.8 240.9 236.8 241.4 237.8 242.0C238.8 242.5 239.8 243.1 240.8 243.6C241.8 244.1 242.8 244.6 243.8 245.2C244.8 245.7 245.8 246.2 246.8 246.7C247.8 247.2 248.8 247.7 249.8 248.2C250.8 248.7 251.8 249.2 252.8 249.7C253.8 250.2 254.8 250.7 255.8 251.2C256.8 251.6 257.8 252.1 258.8 252.6C259.8 253.0 260.8 253.5 261.8 254.0C262.8 254.4 263.8 254.9 264.8 255.3C265.8 255.8 266.8 256.2 267.8 256.7C268.8 257.1 269.8 257.5 270.8 258.0C271.8 258.4 272.8 258.8 273.8 259.2C274.8 259.7 275.8 260.1 276.8 260.5C277.8 260.9 278.8 261.3 279.8 261.7C280.8 262.1 281.8 262.6 282.8 263.0C283.8 263.4 284.8 263.8 285.8 264.1C286.8 264.5 287.8 264.9 288.8 265.3C289.8 265.7 290.8 266.1 291.8 266.5C292.8 266.9 293.8 267.2 294.8 267.6C295.8 268.0 296.8 268.4 297.8 268.7C298.8 269.1 299.8 269.5 300.8 269.8C301.8 270.2 302.8 270.6 303.8 270.9C304.8 271.3 305.8 271.7 306.8 272.0C307.8 272.4 308.8 272.7 309.8 273.1C310.8 273.4 311.8 273.8 312.8 274.1C313.8 274.5 314.8 274.8 315.8 275.2C316.8 275.5 317.8 275.9 318.8 276.2C319.8 276.6 320.8 276.9 321.8 277.3C322.8 277.6 323.8 277.9 324.8 278.3C325.8 278.6 326.8 279.0 327.8 279.3C328.8 279.6 329.8 280.0 330.8 280.3C331.8 280.7 332.8 281.0 333.8 281.3C334.8 281.7 335.8 282.0 336.8 282.4C337.8 282.7 338.8 283.0 339.8 283.4C340.8 283.7 341.8 284.0 342.8 284.4C343.8 284.7 344.8 285.1 345.8 285.4C346.8 285.7 347.8 286.1 348.8 286.4C349.8 286.8 350.8 287.1 351.8 287.4C352.8 287.8 353.8 288.1 354.8 288.4C355.8 288.8 356.8 289.1 357.8 289.4C358.8 289.7 359.8 290.1 360.8 290.4C361.8 290.7 362.8 291.1 363.8 291.4C364.8 291.7 365.8 292.0 366.8 292.3C367.8 292.7 368.8 293.0 369.8 293.3C370.8 293.6 371.8 293.9 372.8 294.2C373.8 294.5 374.8 294.8 375.8 295.1C376.8 295.4 377.8 295.7 378.8 296.0C379.8 296.3 380.8 296.6 381.8 296.9C382.8 297.1 383.8 297.4 384.8 297.7C385.8 298.0 386.8 298.2 387.8 298.5C388.8 298.8 389.8 299.0 390.8 299.3C391.8 299.6 392.8 299.8 393.8 300.0C394.8 300.3 395.8 300.5 396.8 300.8C397.8 301.0 398.8 301.2 399.8 301.5C400.8 301.7 401.8 301.9 402.8 302.1C403.8 302.3 404.8 302.5 405.8 302.7C406.8 302.9 407.8 303.1 408.8 303.3C409.8 303.5 410.8 303.7 411.8 303.8C412.8 304.0 413.8 304.2 414.8 304.3C415.8 304.5 416.8 304.6 417.8 304.8C418.8 304.9 419.8 305.0 420.8 305.2C421.8 305.3 422.8 305.4 423.8 305.5C424.8 305.6 425.8 305.7 426.8 305.8C427.8 305.9 428.8 306.0 429.8 306.0C430.8 306.1 431.8 306.2 432.8 306.2C433.8 306.3 434.8 306.3 435.8 306.4C436.8 306.4 437.8 306.4 438.8 306.4C439.8 306.5 440.8 306.5 441.8 306.5C442.8 306.5 443.8 306.5 444.8 306.5C445.8 306.4 446.8 306.4 447.8 306.4C448.8 306.4 449.8 306.3 450.8 306.3C451.8 306.2 452.8 306.2 453.8 306.1C454.8 306.1 455.8 306.0 456.8 305.9C457.8 305.8 458.8 305.8 459.8 305.7C460.8 305.6 461.8 305.5 462.8 305.4C463.8 305.3 464.8 305.2 465.8 305.1C466.8 305.0 467.8 304.8 468.8 304.7C469.8 304.6 470.8 304.5 471.8 304.3C472.8 304.2 473.8 304.0 474.8 303.9C475.8 303.7 476.8 303.6 477.8 303.4C478.8 303.3 479.8 303.1 480.8 303.0C481.8 302.8 482.8 302.6 483.8 302.4C484.8 302.3 485.8 302.1 486.8 301.9C487.8 301.7 488.8 301.5 489.8 301.4C490.8 301.2 491.8 301.0 492.8 300.8C493.8 300.6 494.8 300.4 495.8 300.2C496.8 300.0 497.8 299.8 498.8 299.6C499.8 299.4 500.8 299.2 501.8 299.0C502.8 298.8 503.8 298.5 504.8 298.3C505.8 298.1 506.8 297.9 507.8 297.7C508.8 297.5 509.8 297.3 510.8 297.2C511.8 297.0 512.8 296.8 513.8 296.6C514.8 296.4 515.8 296.2 516.8 296.0C517.8 295.9 518.8 295.7 519.8 295.5C520.8 295.4 521.8 295.2 522.8 295.1C523.8 294.9 524.8 294.8 525.8 294.6C526.8 294.5 527.8 294.4 528.8 294.3C529.8 294.1 530.8 294.0 531.8 293.9C532.8 293.8 533.8 293.8 534.8 293.7C535.8 293.6 536.8 293.6 537.8 293.5C538.8 293.5 539.8 293.4 540.8 293.4C541.8 293.4 542.8 293.4 543.8 293.4C544.8 293.4 545.8 293.4 546.8 293.4C547.8 293.4 548.8 293.4 549.8 293.5C550.8 293.5 551.8 293.6 552.8 293.6C553.8 293.7 554.8 293.8 555.8 293.8C556.8 293.9 557.8 294.0 558.8 294.1C559.8 294.2 560.8 294.3 561.8 294.4C562.8 294.5 563.8 294.6 564.8 294.7C565.8 294.8 566.8 294.9 567.8 295.0C568.8 295.1 569.8 295.2 570.8 295.3C571.8 295.5 572.8 295.6 573.8 295.7C574.8 295.8 575.8 296.0 576.8 296.1C577.8 296.2 578.8 296.4 579.8 296.5C580.8 296.7 581.8 296.8 582.8 297.0C583.8 297.1 584.8 297.3 585.8 297.5C586.8 297.6 587.8 297.8 588.8 298.0C589.8 298.2 590.8 298.4 591.8 298.6C592.8 298.9 593.8 299.1 594.8 299.3C595.8 299.6 596.8 299.8 597.8 300.1C598.8 300.3 599.8 300.6 600.8 300.9C601.8 301.2 602.8 301.5 603.8 301.8C604.8 302.1 605.8 302.5 606.8 302.8C607.8 303.1 608.8 303.5 609.8 303.8C610.8 304.1 611.8 304.5 612.8 304.8C613.8 305.1 614.8 305.5 615.8 305.8C616.8 306.1 617.8 306.4 618.8 306.7C619.8 307.1 620.8 307.4 621.8 307.6C622.8 307.9 623.8 308.2 624.8 308.5C625.8 308.7 626.8 309.0 627.8 309.2C628.8 309.5 629.8 309.7 630.8 309.9C631.8 310.2 632.8 310.4 633.8 310.6C634.8 310.8 635.8 311.0 636.8 311.3C637.8 311.5 638.8 311.7 639.8 311.9C640.8 312.2 641.8 312.4 642.8 312.6C643.8 312.8 644.8 313.1 645.8 313.3C646.8 313.5 647.8 313.7 648.8 313.9C649.8 314.1 650.8 314.3 651.8 314.5C652.8 314.7 653.8 314.8 654.8 314.9C655.8 315.1 656.8 315.2 657.8 315.2C658.8 315.3 659.8 315.3 660.8 315.3C661.8 315.4 662.8 315.3 663.8 315.3C664.8 315.3 665.8 315.2 666.8 315.1C667.8 315.0 668.8 314.9 669.8 314.7C670.8 314.6 671.8 314.4 672.8 314.2C673.8 314.0 674.8 313.8 675.8 313.6C676.8 313.3 677.8 313.1 678.8 312.8C679.8 312.5 680.8 312.1 681.8 311.8C682.8 311.5 683.8 311.1 684.8 310.7C685.8 310.3 686.8 309.9 687.8 309.5C688.8 309.0 689.8 308.6 690.8 308.1C691.8 307.6 692.8 307.1 693.8 306.6C694.8 306.1 695.8 305.5 696.8 305.0C697.8 304.4 698.8 303.8 699.8 303.2C700.8 302.6 701.8 302.0 702.8 301.3C703.8 300.7 704.8 300.0 705.8 299.3C706.8 298.6 707.8 297.9 708.8 297.2C709.8 296.5 710.8 295.7 711.8 295.0C712.8 294.2 713.8 293.5 714.8 292.7C715.8 291.9 716.8 291.1 717.8 290.4C718.8 289.6 719.8 288.8 720.8 288.0C721.8 287.2 722.8 286.5 723.8 285.7C724.8 284.9 725.8 284.1 726.8 283.4C727.8 282.6 728.8 281.9 729.8 281.1C730.8 280.4 731.8 279.6 732.8 278.9C733.8 278.2 734.8 277.5 735.8 276.9C736.8 276.2 737.8 275.5 738.8 274.9C739.8 274.3 740.8 273.8 741.8 273.2C742.8 272.7 743.8 272.3 744.8 271.9C745.8 271.5 746.8 271.1 747.8 270.8C748.8 270.6 749.8 270.4 750.8 270.3C751.8 270.2 752.8 270.1 753.8 270.2C754.8 270.3 755.8 270.5 756.8 270.8C757.8 271.1 758.8 271.5 759.8 272.0C760.8 272.5 761.8 273.2 762.8 273.9C763.8 274.6 764.8 275.4 765.8 276.3C766.8 277.2 767.8 278.2 768.8 279.2C769.8 280.1 770.8 281.2 771.8 282.2C772.8 283.3 773.8 284.4 774.8 285.4C775.8 286.5 776.8 287.6 777.8 288.6C778.8 289.6 779.8 290.6 780.8 291.6C781.8 292.5 782.8 293.4 783.8 294.1C784.8 294.9 785.8 295.6 786.8 296.2C787.8 296.7 788.8 297.2 789.8 297.5C790.8 297.8 791.8 297.9 792.8 297.9C793.8 297.9 794.8 297.7 795.8 297.4C796.8 297.1 797.8 296.6 798.8 296.0C799.8 295.4 800.8 294.6 801.8 293.8C802.8 292.9 803.8 291.8 804.8 290.7C805.8 289.5 807.0 287.9 807.8 286.8C808.6 285.7 809.3 284.6 809.6 284.1" stroke="#0f99e2" stroke-width="2.05" fill="none" stroke-linejoin="round"/><path d="M127.9 182.8C128.4 183.3 129.9 184.7 130.9 185.6C131.9 186.5 132.9 187.5 133.9 188.4C134.9 189.3 135.9 190.2 136.9 191.1C137.9 192.0 138.9 192.9 139.9 193.8C140.9 194.7 141.9 195.6 142.9 196.5C143.9 197.4 144.9 198.2 145.9 199.1C146.9 200.0 147.9 200.8 148.9 201.7C149.9 202.6 150.9 203.4 151.9 204.2C152.9 205.1 153.9 205.9 154.9 206.8C155.9 207.6 156.9 208.4 157.9 209.2C158.9 210.1 159.9 210.9 160.9 211.7C161.9 212.5 162.9 213.3 163.9 214.1C164.9 214.9 165.9 215.7 166.9 216.5C167.9 217.3 168.9 218.0 169.9 218.8C170.9 219.6 171.9 220.3 172.9 221.1C173.9 221.9 174.9 222.6 175.9 223.4C176.9 224.1 177.9 224.9 178.9 225.6C179.9 226.4 180.9 227.1 181.9 227.8C182.9 228.6 183.9 229.3 184.9 230.0C185.9 230.7 186.9 231.4 187.9 232.1C188.9 232.8 189.9 233.6 190.9 234.2C191.9 234.9 192.9 235.6 193.9 236.3C194.9 237.0 195.9 237.7 196.9 238.4C197.9 239.1 198.9 239.7 199.9 240.4C200.9 241.1 201.9 241.7 202.9 242.4C203.9 243.0 204.9 243.7 205.9 244.3C206.9 245.0 207.9 245.6 208.9 246.3C209.9 246.9 210.9 247.5 211.9 248.2C212.9 248.8 213.9 249.4 214.9 250.0C215.9 250.6 216.9 251.3 217.9 251.9C218.9 252.5 219.9 253.1 220.9 253.7C221.9 254.3 222.9 254.9 223.9 255.5C224.9 256.1 225.9 256.6 226.9 257.2C227.9 257.8 228.9 258.4 229.9 258.9C230.9 259.5 231.9 260.1 232.9 260.7C233.9 261.2 234.9 261.8 235.9 262.3C236.9 262.9 237.9 263.4 238.9 264.0C239.9 264.5 240.9 265.1 241.9 265.6C242.9 266.1 243.9 266.7 244.9 267.2C245.9 267.7 246.9 268.3 247.9 268.8C248.9 269.3 249.9 269.8 250.9 270.3C251.9 270.9 252.9 271.4 253.9 271.9C254.9 272.4 255.9 272.9 256.9 273.4C257.9 273.9 258.9 274.4 259.9 274.9C260.9 275.3 261.9 275.8 262.9 276.3C263.9 276.8 264.9 277.3 265.9 277.8C266.9 278.2 267.9 278.7 268.9 279.2C269.9 279.6 270.9 280.1 271.9 280.6C272.9 281.0 273.9 281.5 274.9 281.9C275.9 282.4 276.9 282.8 277.9 283.3C278.9 283.7 279.9 284.2 280.9 284.6C281.9 285.1 282.9 285.5 283.9 285.9C284.9 286.4 285.9 286.8 286.9 287.2C287.9 287.6 288.9 288.1 289.9 288.5C290.9 288.9 291.9 289.3 292.9 289.7C293.9 290.2 294.9 290.6 295.9 291.0C296.9 291.4 297.9 291.8 298.9 292.2C299.9 292.6 300.9 293.0 301.9 293.4C302.9 293.8 303.9 294.2 304.9 294.6C305.9 295.0 306.9 295.3 307.9 295.7C308.9 296.1 309.9 296.5 310.9 296.9C311.9 297.3 312.9 297.6 313.9 298.0C314.9 298.4 315.9 298.8 316.9 299.1C317.9 299.5 318.9 299.9 319.9 300.2C320.9 300.6 321.9 300.9 322.9 301.3C323.9 301.7 324.9 302.0 325.9 302.4C326.9 302.7 327.9 303.1 328.9 303.4C329.9 303.8 330.9 304.1 331.9 304.5C332.9 304.8 333.9 305.1 334.9 305.5C335.9 305.8 336.9 306.1 337.9 306.5C338.9 306.8 339.9 307.1 340.9 307.5C341.9 307.8 342.9 308.1 343.9 308.4C344.9 308.8 345.9 309.1 346.9 309.4C347.9 309.7 348.9 310.0 349.9 310.3C350.9 310.6 351.9 310.9 352.9 311.3C353.9 311.6 354.9 311.9 355.9 312.2C356.9 312.5 357.9 312.8 358.9 313.1C359.9 313.4 360.9 313.6 361.9 313.9C362.9 314.2 363.9 314.5 364.9 314.8C365.9 315.1 366.9 315.4 367.9 315.7C368.9 315.9 369.9 316.2 370.9 316.5C371.9 316.8 372.9 317.0 373.9 317.3C374.9 317.6 375.9 317.8 376.9 318.1C377.9 318.4 378.9 318.6 379.9 318.9C380.9 319.2 381.9 319.4 382.9 319.7C383.9 319.9 384.9 320.2 385.9 320.4C386.9 320.7 387.9 320.9 388.9 321.2C389.9 321.4 390.9 321.7 391.9 321.9C392.9 322.1 393.9 322.4 394.9 322.6C395.9 322.8 396.9 323.1 397.9 323.3C398.9 323.5 399.9 323.8 400.9 324.0C401.9 324.2 402.9 324.4 403.9 324.7C404.9 324.9 405.9 325.1 406.9 325.3C407.9 325.5 408.9 325.7 409.9 325.9C410.9 326.2 411.9 326.4 412.9 326.6C413.9 326.7 414.9 326.9 415.9 327.1C416.9 327.3 417.9 327.5 418.9 327.7C419.9 327.9 420.9 328.0 421.9 328.2C422.9 328.3 423.9 328.5 424.9 328.6C425.9 328.8 426.9 328.9 427.9 329.1C428.9 329.2 429.9 329.3 430.9 329.4C431.9 329.5 432.9 329.6 433.9 329.7C434.9 329.8 435.9 329.9 436.9 330.0C437.9 330.1 438.9 330.1 439.9 330.2C440.9 330.2 441.9 330.2 442.9 330.3C443.9 330.3 444.9 330.3 445.9 330.3C446.9 330.3 447.9 330.3 448.9 330.3C449.9 330.3 450.9 330.2 451.9 330.2C452.9 330.1 453.9 330.1 454.9 330.0C455.9 330.0 456.9 329.9 457.9 329.8C458.9 329.7 459.9 329.7 460.9 329.6C461.9 329.5 462.9 329.4 463.9 329.3C464.9 329.2 465.9 329.1 466.9 329.0C467.9 328.9 468.9 328.7 469.9 328.6C470.9 328.5 471.9 328.4 472.9 328.3C473.9 328.1 474.9 328.0 475.9 327.9C476.9 327.8 477.9 327.6 478.9 327.5C479.9 327.4 480.9 327.3 481.9 327.1C482.9 327.0 483.9 326.9 484.9 326.8C485.9 326.6 486.9 326.5 487.9 326.4C488.9 326.2 489.9 326.1 490.9 326.0C491.9 325.9 492.9 325.7 493.9 325.6C494.9 325.5 495.9 325.4 496.9 325.2C497.9 325.1 498.9 325.0 499.9 324.9C500.9 324.8 501.9 324.6 502.9 324.5C503.9 324.4 504.9 324.3 505.9 324.2C506.9 324.1 507.9 324.0 508.9 323.9C509.9 323.8 510.9 323.7 511.9 323.6C512.9 323.5 513.9 323.4 514.9 323.3C515.9 323.2 516.9 323.1 517.9 323.0C518.9 322.9 519.9 322.8 520.9 322.7C521.9 322.7 522.9 322.6 523.9 322.5C524.9 322.4 525.9 322.4 526.9 322.3C527.9 322.2 528.9 322.2 529.9 322.1C530.9 322.1 531.9 322.0 532.9 322.0C533.9 321.9 534.9 321.9 535.9 321.9C536.9 321.8 537.9 321.8 538.9 321.8C539.9 321.8 540.9 321.8 541.9 321.7C542.9 321.7 543.9 321.7 544.9 321.7C545.9 321.7 546.9 321.7 547.9 321.8C548.9 321.8 549.9 321.8 550.9 321.8C551.9 321.9 552.9 321.9 553.9 321.9C554.9 322.0 555.9 322.0 556.9 322.1C557.9 322.2 558.9 322.2 559.9 322.3C560.9 322.4 561.9 322.5 562.9 322.5C563.9 322.6 564.9 322.7 565.9 322.8C566.9 323.0 567.9 323.1 568.9 323.2C569.9 323.3 570.9 323.5 571.9 323.6C572.9 323.7 573.9 323.9 574.9 324.1C575.9 324.2 576.9 324.4 577.9 324.6C578.9 324.7 579.9 324.9 580.9 325.1C581.9 325.3 582.9 325.5 583.9 325.7C584.9 325.9 585.9 326.1 586.9 326.3C587.9 326.5 588.9 326.7 589.9 327.0C590.9 327.2 591.9 327.4 592.9 327.6C593.9 327.8 594.9 328.1 595.9 328.3C596.9 328.5 597.9 328.8 598.9 329.0C599.9 329.2 600.9 329.5 601.9 329.7C602.9 330.0 603.9 330.2 604.9 330.4C605.9 330.7 606.9 330.9 607.9 331.1C608.9 331.4 609.9 331.6 610.9 331.9C611.9 332.1 612.9 332.3 613.9 332.6C614.9 332.8 615.9 333.0 616.9 333.2C617.9 333.5 618.9 333.7 619.9 333.9C620.9 334.1 621.9 334.3 622.9 334.5C623.9 334.8 624.9 335.0 625.9 335.2C626.9 335.4 627.9 335.6 628.9 335.7C629.9 335.9 630.9 336.1 631.9 336.3C632.9 336.5 633.9 336.6 634.9 336.8C635.9 337.0 636.9 337.1 637.9 337.2C638.9 337.4 639.9 337.5 640.9 337.6C641.9 337.8 642.9 337.9 643.9 338.0C644.9 338.1 645.9 338.2 646.9 338.3C647.9 338.4 648.9 338.4 649.9 338.5C650.9 338.6 651.9 338.6 652.9 338.6C653.9 338.7 654.9 338.7 655.9 338.7C656.9 338.7 657.9 338.7 658.9 338.7C659.9 338.7 660.9 338.7 661.9 338.6C662.9 338.6 663.9 338.5 664.9 338.5C665.9 338.4 666.9 338.3 667.9 338.2C668.9 338.2 669.9 338.1 670.9 337.9C671.9 337.8 672.9 337.7 673.9 337.6C674.9 337.5 675.9 337.3 676.9 337.2C677.9 337.0 678.9 336.8 679.9 336.7C680.9 336.5 681.9 336.3 682.9 336.1C683.9 336.0 684.9 335.8 685.9 335.6C686.9 335.3 687.9 335.1 688.9 334.9C689.9 334.7 690.9 334.4 691.9 334.1C692.9 333.9 693.9 333.6 694.9 333.3C695.9 333.0 696.9 332.6 697.9 332.2C698.9 331.9 699.9 331.5 700.9 331.0C701.9 330.6 702.9 330.1 703.9 329.6C704.9 329.1 705.9 328.5 706.9 327.9C707.9 327.3 708.9 326.7 709.9 326.0C710.9 325.3 711.9 324.6 712.9 323.8C713.9 323.0 714.9 322.1 715.9 321.2C716.9 320.3 717.9 319.4 718.9 318.4C719.9 317.5 720.9 316.5 721.9 315.5C722.9 314.5 723.9 313.5 724.9 312.5C725.9 311.5 726.9 310.5 727.9 309.5C728.9 308.5 729.9 307.6 730.9 306.6C731.9 305.7 732.9 304.8 733.9 304.0C734.9 303.1 735.9 302.3 736.9 301.6C737.9 300.9 738.9 300.2 739.9 299.6C740.9 299.0 741.9 298.5 742.9 298.1C743.9 297.7 744.9 297.3 745.9 297.1C746.9 296.8 747.9 296.6 748.9 296.5C749.9 296.5 750.9 296.5 751.9 296.5C752.9 296.6 753.9 296.8 754.9 297.0C755.9 297.3 756.9 297.6 757.9 298.0C758.9 298.5 759.9 299.0 760.9 299.6C761.9 300.1 762.9 300.8 763.9 301.6C764.9 302.3 765.9 303.2 766.9 304.1C767.9 305.0 768.9 306.0 769.9 307.0C770.9 308.0 771.9 309.0 772.9 310.0C773.9 311.1 774.9 312.1 775.9 313.2C776.9 314.2 777.9 315.2 778.9 316.1C779.9 317.0 780.9 317.9 781.9 318.7C782.9 319.5 783.9 320.3 784.9 320.9C785.9 321.5 786.9 322.0 787.9 322.4C788.9 322.7 789.9 322.9 790.9 323.0C791.9 323.0 792.9 322.9 793.9 322.6C794.9 322.4 795.9 321.9 796.9 321.4C797.9 320.8 798.9 320.1 799.9 319.4C800.9 318.7 801.9 317.8 802.9 317.0C803.9 316.1 804.9 315.2 805.9 314.3C806.9 313.5 808.3 312.3 808.9 311.7C809.5 311.2 809.5 311.3 809.6 311.2" stroke="#0f99e2" stroke-width="2.05" fill="none" stroke-linejoin="round"/><path d="M128.4 199.2C128.9 199.6 130.4 200.9 131.4 201.7C132.4 202.5 133.4 203.3 134.4 204.2C135.4 205.0 136.4 205.8 137.4 206.7C138.4 207.5 139.4 208.3 140.4 209.1C141.4 210.0 142.4 210.8 143.4 211.6C144.4 212.5 145.4 213.3 146.4 214.1C147.4 215.0 148.4 215.8 149.4 216.6C150.4 217.5 151.4 218.3 152.4 219.1C153.4 220.0 154.4 220.8 155.4 221.6C156.4 222.5 157.4 223.3 158.4 224.1C159.4 224.9 160.4 225.8 161.4 226.6C162.4 227.4 163.4 228.2 164.4 229.1C165.4 229.9 166.4 230.7 167.4 231.5C168.4 232.3 169.4 233.2 170.4 234.0C171.4 234.8 172.4 235.6 173.4 236.4C174.4 237.2 175.4 238.0 176.4 238.8C177.4 239.6 178.4 240.4 179.4 241.2C180.4 242.0 181.4 242.8 182.4 243.6C183.4 244.4 184.4 245.2 185.4 246.0C186.4 246.7 187.4 247.5 188.4 248.3C189.4 249.1 190.4 249.8 191.4 250.6C192.4 251.4 193.4 252.1 194.4 252.9C195.4 253.7 196.4 254.4 197.4 255.2C198.4 255.9 199.4 256.6 200.4 257.4C201.4 258.1 202.4 258.8 203.4 259.6C204.4 260.3 205.4 261.0 206.4 261.7C207.4 262.4 208.4 263.2 209.4 263.9C210.4 264.6 211.4 265.3 212.4 266.0C213.4 266.6 214.4 267.3 215.4 268.0C216.4 268.7 217.4 269.4 218.4 270.0C219.4 270.7 220.4 271.4 221.4 272.0C222.4 272.7 223.4 273.4 224.4 274.0C225.4 274.7 226.4 275.3 227.4 275.9C228.4 276.6 229.4 277.2 230.4 277.9C231.4 278.5 232.4 279.1 233.4 279.7C234.4 280.3 235.4 281.0 236.4 281.6C237.4 282.2 238.4 282.8 239.4 283.4C240.4 284.0 241.4 284.6 242.4 285.2C243.4 285.8 244.4 286.4 245.4 286.9C246.4 287.5 247.4 288.1 248.4 288.7C249.4 289.3 250.4 289.8 251.4 290.4C252.4 291.0 253.4 291.5 254.4 292.1C255.4 292.6 256.4 293.2 257.4 293.7C258.4 294.3 259.4 294.8 260.4 295.4C261.4 295.9 262.4 296.4 263.4 297.0C264.4 297.5 265.4 298.0 266.4 298.6C267.4 299.1 268.4 299.6 269.4 300.1C270.4 300.6 271.4 301.1 272.4 301.6C273.4 302.2 274.4 302.7 275.4 303.2C276.4 303.7 277.4 304.2 278.4 304.6C279.4 305.1 280.4 305.6 281.4 306.1C282.4 306.6 283.4 307.1 284.4 307.6C285.4 308.0 286.4 308.5 287.4 309.0C288.4 309.5 289.4 309.9 290.4 310.4C291.4 310.9 292.4 311.3 293.4 311.8C294.4 312.2 295.4 312.7 296.4 313.1C297.4 313.6 298.4 314.0 299.4 314.5C300.4 314.9 301.4 315.4 302.4 315.8C303.4 316.2 304.4 316.7 305.4 317.1C306.4 317.5 307.4 318.0 308.4 318.4C309.4 318.8 310.4 319.3 311.4 319.7C312.4 320.1 313.4 320.5 314.4 320.9C315.4 321.3 316.4 321.8 317.4 322.2C318.4 322.6 319.4 323.0 320.4 323.4C321.4 323.8 322.4 324.2 323.4 324.6C324.4 325.0 325.4 325.4 326.4 325.8C327.4 326.2 328.4 326.6 329.4 326.9C330.4 327.3 331.4 327.7 332.4 328.1C333.4 328.5 334.4 328.8 335.4 329.2C336.4 329.6 337.4 330.0 338.4 330.3C339.4 330.7 340.4 331.1 341.4 331.4C342.4 331.8 343.4 332.1 344.4 332.5C345.4 332.8 346.4 333.2 347.4 333.5C348.4 333.9 349.4 334.2 350.4 334.5C351.4 334.9 352.4 335.2 353.4 335.5C354.4 335.9 355.4 336.2 356.4 336.5C357.4 336.8 358.4 337.1 359.4 337.5C360.4 337.8 361.4 338.1 362.4 338.4C363.4 338.7 364.4 339.0 365.4 339.3C366.4 339.6 367.4 339.9 368.4 340.1C369.4 340.4 370.4 340.7 371.4 341.0C372.4 341.3 373.4 341.5 374.4 341.8C375.4 342.1 376.4 342.3 377.4 342.6C378.4 342.9 379.4 343.1 380.4 343.4C381.4 343.6 382.4 343.9 383.4 344.1C384.4 344.3 385.4 344.6 386.4 344.8C387.4 345.0 388.4 345.3 389.4 345.5C390.4 345.7 391.4 345.9 392.4 346.1C393.4 346.3 394.4 346.5 395.4 346.7C396.4 346.9 397.4 347.1 398.4 347.3C399.4 347.5 400.4 347.7 401.4 347.9C402.4 348.0 403.4 348.2 404.4 348.4C405.4 348.5 406.4 348.7 407.4 348.8C408.4 349.0 409.4 349.2 410.4 349.3C411.4 349.4 412.4 349.6 413.4 349.7C414.4 349.8 415.4 350.0 416.4 350.1C417.4 350.2 418.4 350.3 419.4 350.5C420.4 350.6 421.4 350.7 422.4 350.8C423.4 350.9 424.4 351.0 425.4 351.1C426.4 351.2 427.4 351.3 428.4 351.3C429.4 351.4 430.4 351.5 431.4 351.6C432.4 351.7 433.4 351.7 434.4 351.8C435.4 351.9 436.4 351.9 437.4 352.0C438.4 352.0 439.4 352.1 440.4 352.1C441.4 352.2 442.4 352.2 443.4 352.3C444.4 352.3 445.4 352.4 446.4 352.4C447.4 352.4 448.4 352.4 449.4 352.5C450.4 352.5 451.4 352.5 452.4 352.5C453.4 352.6 454.4 352.6 455.4 352.6C456.4 352.6 457.4 352.6 458.4 352.6C459.4 352.6 460.4 352.6 461.4 352.6C462.4 352.6 463.4 352.6 464.4 352.6C465.4 352.6 466.4 352.5 467.4 352.5C468.4 352.5 469.4 352.5 470.4 352.5C471.4 352.4 472.4 352.4 473.4 352.4C474.4 352.3 475.4 352.3 476.4 352.3C477.4 352.2 478.4 352.2 479.4 352.2C480.4 352.1 481.4 352.1 482.4 352.0C483.4 352.0 484.4 351.9 485.4 351.9C486.4 351.8 487.4 351.8 488.4 351.7C489.4 351.6 490.4 351.6 491.4 351.5C492.4 351.5 493.4 351.4 494.4 351.3C495.4 351.3 496.4 351.2 497.4 351.1C498.4 351.0 499.4 351.0 500.4 350.9C501.4 350.8 502.4 350.8 503.4 350.7C504.4 350.6 505.4 350.5 506.4 350.5C507.4 350.4 508.4 350.3 509.4 350.2C510.4 350.2 511.4 350.1 512.4 350.0C513.4 349.9 514.4 349.9 515.4 349.8C516.4 349.7 517.4 349.7 518.4 349.6C519.4 349.5 520.4 349.5 521.4 349.4C522.4 349.4 523.4 349.3 524.4 349.2C525.4 349.2 526.4 349.1 527.4 349.1C528.4 349.0 529.4 349.0 530.4 348.9C531.4 348.9 532.4 348.9 533.4 348.8C534.4 348.8 535.4 348.8 536.4 348.7C537.4 348.7 538.4 348.7 539.4 348.7C540.4 348.7 541.4 348.7 542.4 348.7C543.4 348.7 544.4 348.7 545.4 348.7C546.4 348.7 547.4 348.7 548.4 348.7C549.4 348.7 550.4 348.8 551.4 348.8C552.4 348.8 553.4 348.9 554.4 348.9C555.4 349.0 556.4 349.0 557.4 349.1C558.4 349.2 559.4 349.2 560.4 349.3C561.4 349.4 562.4 349.5 563.4 349.6C564.4 349.7 565.4 349.8 566.4 349.9C567.4 350.0 568.4 350.2 569.4 350.3C570.4 350.5 571.4 350.6 572.4 350.8C573.4 350.9 574.4 351.1 575.4 351.3C576.4 351.5 577.4 351.6 578.4 351.8C579.4 352.0 580.4 352.3 581.4 352.5C582.4 352.7 583.4 353.0 584.4 353.2C585.4 353.4 586.4 353.7 587.4 354.0C588.4 354.2 589.4 354.5 590.4 354.8C591.4 355.1 592.4 355.4 593.4 355.7C594.4 356.0 595.4 356.3 596.4 356.6C597.4 356.9 598.4 357.2 599.4 357.5C600.4 357.9 601.4 358.2 602.4 358.5C603.4 358.8 604.4 359.2 605.4 359.5C606.4 359.8 607.4 360.2 608.4 360.5C609.4 360.8 610.4 361.2 611.4 361.5C612.4 361.8 613.4 362.1 614.4 362.5C615.4 362.8 616.4 363.1 617.4 363.4C618.4 363.8 619.4 364.1 620.4 364.4C621.4 364.7 622.4 365.0 623.4 365.3C624.4 365.6 625.4 365.9 626.4 366.2C627.4 366.4 628.4 366.7 629.4 367.0C630.4 367.2 631.4 367.5 632.4 367.7C633.4 368.0 634.4 368.2 635.4 368.4C636.4 368.7 637.4 368.9 638.4 369.1C639.4 369.3 640.4 369.5 641.4 369.6C642.4 369.8 643.4 370.0 644.4 370.1C645.4 370.3 646.4 370.4 647.4 370.5C648.4 370.7 649.4 370.8 650.4 370.9C651.4 370.9 652.4 371.0 653.4 371.1C654.4 371.1 655.4 371.2 656.4 371.2C657.4 371.2 658.4 371.2 659.4 371.2C660.4 371.2 661.4 371.2 662.4 371.2C663.4 371.1 664.4 371.1 665.4 371.0C666.4 370.9 667.4 370.8 668.4 370.7C669.4 370.6 670.4 370.4 671.4 370.3C672.4 370.1 673.4 369.9 674.4 369.7C675.4 369.5 676.4 369.3 677.4 369.1C678.4 368.9 679.4 368.6 680.4 368.3C681.4 368.1 682.4 367.8 683.4 367.4C684.4 367.1 685.4 366.8 686.4 366.4C687.4 366.1 688.4 365.7 689.4 365.3C690.4 364.9 691.4 364.5 692.4 364.0C693.4 363.6 694.4 363.1 695.4 362.6C696.4 362.1 697.4 361.6 698.4 361.1C699.4 360.6 700.4 360.0 701.4 359.4C702.4 358.8 703.4 358.2 704.4 357.6C705.4 357.0 706.4 356.3 707.4 355.7C708.4 355.0 709.4 354.3 710.4 353.6C711.4 352.9 712.4 352.1 713.4 351.4C714.4 350.6 715.4 349.8 716.4 349.0C717.4 348.2 718.4 347.3 719.4 346.5C720.4 345.6 721.4 344.8 722.4 343.9C723.4 343.0 724.4 342.1 725.4 341.2C726.4 340.3 727.4 339.3 728.4 338.4C729.4 337.5 730.4 336.5 731.4 335.6C732.4 334.7 733.4 333.8 734.4 333.0C735.4 332.2 736.4 331.4 737.4 330.7C738.4 329.9 739.4 329.3 740.4 328.7C741.4 328.2 742.4 327.7 743.4 327.4C744.4 327.0 745.4 326.7 746.4 326.5C747.4 326.4 748.4 326.3 749.4 326.2C750.4 326.2 751.4 326.3 752.4 326.4C753.4 326.5 754.4 326.8 755.4 327.0C756.4 327.3 757.4 327.6 758.4 328.0C759.4 328.4 760.4 328.9 761.4 329.4C762.4 329.9 763.4 330.5 764.4 331.1C765.4 331.7 766.4 332.4 767.4 333.0C768.4 333.7 769.4 334.5 770.4 335.2C771.4 335.9 772.4 336.7 773.4 337.5C774.4 338.3 775.4 339.1 776.4 339.9C777.4 340.7 778.4 341.5 779.4 342.2C780.4 343.0 781.4 343.7 782.4 344.3C783.4 344.9 784.4 345.4 785.4 345.8C786.4 346.2 787.4 346.5 788.4 346.6C789.4 346.8 790.4 346.8 791.4 346.6C792.4 346.4 793.4 345.9 794.4 345.4C795.4 344.9 796.4 344.2 797.4 343.4C798.4 342.6 799.4 341.7 800.4 340.8C801.4 339.8 802.4 338.8 803.4 337.8C804.4 336.8 805.5 335.6 806.4 334.7C807.3 333.8 808.6 332.6 809.0 332.2" stroke="#0f99e2" stroke-width="2.05" fill="none" stroke-linejoin="round"/><path d="M126.4 211.4C126.9 211.9 128.4 213.3 129.4 214.2C130.4 215.2 131.4 216.2 132.4 217.1C133.4 218.1 134.4 219.1 135.4 220.0C136.4 221.0 137.4 222.0 138.4 222.9C139.4 223.9 140.4 224.9 141.4 225.9C142.4 226.8 143.4 227.8 144.4 228.8C145.4 229.7 146.4 230.7 147.4 231.7C148.4 232.6 149.4 233.6 150.4 234.5C151.4 235.5 152.4 236.4 153.4 237.4C154.4 238.3 155.4 239.3 156.4 240.2C157.4 241.1 158.4 242.0 159.4 242.9C160.4 243.8 161.4 244.7 162.4 245.6C163.4 246.5 164.4 247.4 165.4 248.3C166.4 249.2 167.4 250.0 168.4 250.9C169.4 251.7 170.4 252.6 171.4 253.4C172.4 254.2 173.4 255.1 174.4 255.9C175.4 256.7 176.4 257.5 177.4 258.4C178.4 259.2 179.4 260.0 180.4 260.8C181.4 261.6 182.4 262.4 183.4 263.1C184.4 263.9 185.4 264.7 186.4 265.5C187.4 266.3 188.4 267.0 189.4 267.8C190.4 268.5 191.4 269.3 192.4 270.1C193.4 270.8 194.4 271.6 195.4 272.3C196.4 273.0 197.4 273.8 198.4 274.5C199.4 275.3 200.4 276.0 201.4 276.7C202.4 277.4 203.4 278.1 204.4 278.9C205.4 279.6 206.4 280.3 207.4 281.0C208.4 281.7 209.4 282.4 210.4 283.1C211.4 283.8 212.4 284.5 213.4 285.2C214.4 285.9 215.4 286.5 216.4 287.2C217.4 287.9 218.4 288.6 219.4 289.2C220.4 289.9 221.4 290.6 222.4 291.3C223.4 291.9 224.4 292.6 225.4 293.2C226.4 293.9 227.4 294.5 228.4 295.2C229.4 295.8 230.4 296.5 231.4 297.1C232.4 297.8 233.4 298.4 234.4 299.0C235.4 299.7 236.4 300.3 237.4 300.9C238.4 301.5 239.4 302.2 240.4 302.8C241.4 303.4 242.4 304.0 243.4 304.6C244.4 305.3 245.4 305.9 246.4 306.5C247.4 307.1 248.4 307.7 249.4 308.3C250.4 308.9 251.4 309.5 252.4 310.1C253.4 310.7 254.4 311.2 255.4 311.8C256.4 312.4 257.4 313.0 258.4 313.6C259.4 314.1 260.4 314.7 261.4 315.3C262.4 315.8 263.4 316.4 264.4 317.0C265.4 317.5 266.4 318.1 267.4 318.6C268.4 319.2 269.4 319.7 270.4 320.2C271.4 320.8 272.4 321.3 273.4 321.8C274.4 322.4 275.4 322.9 276.4 323.4C277.4 323.9 278.4 324.4 279.4 324.9C280.4 325.4 281.4 325.9 282.4 326.4C283.4 326.9 284.4 327.4 285.4 327.9C286.4 328.4 287.4 328.9 288.4 329.3C289.4 329.8 290.4 330.3 291.4 330.7C292.4 331.2 293.4 331.6 294.4 332.1C295.4 332.5 296.4 333.0 297.4 333.4C298.4 333.8 299.4 334.3 300.4 334.7C301.4 335.1 302.4 335.6 303.4 336.0C304.4 336.4 305.4 336.8 306.4 337.2C307.4 337.6 308.4 338.0 309.4 338.4C310.4 338.9 311.4 339.3 312.4 339.7C313.4 340.1 314.4 340.5 315.4 340.9C316.4 341.3 317.4 341.7 318.4 342.1C319.4 342.5 320.4 342.9 321.4 343.3C322.4 343.7 323.4 344.1 324.4 344.5C325.4 344.9 326.4 345.3 327.4 345.7C328.4 346.1 329.4 346.5 330.4 347.0C331.4 347.4 332.4 347.8 333.4 348.2C334.4 348.6 335.4 349.1 336.4 349.5C337.4 349.9 338.4 350.3 339.4 350.8C340.4 351.2 341.4 351.7 342.4 352.1C343.4 352.6 344.4 353.0 345.4 353.5C346.4 353.9 347.4 354.4 348.4 354.8C349.4 355.3 350.4 355.7 351.4 356.2C352.4 356.6 353.4 357.1 354.4 357.5C355.4 357.9 356.4 358.4 357.4 358.8C358.4 359.2 359.4 359.6 360.4 360.0C361.4 360.4 362.4 360.8 363.4 361.2C364.4 361.5 365.4 361.9 366.4 362.3C367.4 362.6 368.4 362.9 369.4 363.3C370.4 363.6 371.4 363.9 372.4 364.2C373.4 364.5 374.4 364.9 375.4 365.1C376.4 365.4 377.4 365.7 378.4 366.0C379.4 366.3 380.4 366.6 381.4 366.9C382.4 367.1 383.4 367.4 384.4 367.7C385.4 367.9 386.4 368.2 387.4 368.4C388.4 368.7 389.4 368.9 390.4 369.2C391.4 369.4 392.4 369.7 393.4 369.9C394.4 370.1 395.4 370.4 396.4 370.6C397.4 370.8 398.4 371.0 399.4 371.3C400.4 371.5 401.4 371.7 402.4 371.9C403.4 372.1 404.4 372.3 405.4 372.5C406.4 372.7 407.4 372.9 408.4 373.1C409.4 373.3 410.4 373.5 411.4 373.6C412.4 373.8 413.4 374.0 414.4 374.2C415.4 374.3 416.4 374.5 417.4 374.7C418.4 374.8 419.4 375.0 420.4 375.1C421.4 375.3 422.4 375.4 423.4 375.6C424.4 375.7 425.4 375.9 426.4 376.0C427.4 376.1 428.4 376.3 429.4 376.4C430.4 376.5 431.4 376.6 432.4 376.8C433.4 376.9 434.4 377.0 435.4 377.1C436.4 377.2 437.4 377.3 438.4 377.4C439.4 377.5 440.4 377.6 441.4 377.7C442.4 377.8 443.4 377.9 444.4 378.0C445.4 378.1 446.4 378.2 447.4 378.2C448.4 378.3 449.4 378.4 450.4 378.5C451.4 378.5 452.4 378.6 453.4 378.7C454.4 378.7 455.4 378.8 456.4 378.8C457.4 378.9 458.4 378.9 459.4 379.0C460.4 379.0 461.4 379.1 462.4 379.1C463.4 379.2 464.4 379.2 465.4 379.2C466.4 379.3 467.4 379.3 468.4 379.3C469.4 379.3 470.4 379.4 471.4 379.4C472.4 379.4 473.4 379.4 474.4 379.4C475.4 379.4 476.4 379.5 477.4 379.5C478.4 379.5 479.4 379.5 480.4 379.5C481.4 379.5 482.4 379.5 483.4 379.5C484.4 379.5 485.4 379.5 486.4 379.5C487.4 379.5 488.4 379.5 489.4 379.5C490.4 379.5 491.4 379.5 492.4 379.4C493.4 379.4 494.4 379.4 495.4 379.4C496.4 379.4 497.4 379.4 498.4 379.3C499.4 379.3 500.4 379.3 501.4 379.3C502.4 379.3 503.4 379.3 504.4 379.2C505.4 379.2 506.4 379.2 507.4 379.2C508.4 379.1 509.4 379.1 510.4 379.1C511.4 379.1 512.4 379.0 513.4 379.0C514.4 379.0 515.4 379.0 516.4 378.9C517.4 378.9 518.4 378.9 519.4 378.8C520.4 378.8 521.4 378.8 522.4 378.8C523.4 378.7 524.4 378.7 525.4 378.7C526.4 378.7 527.4 378.6 528.4 378.6C529.4 378.6 530.4 378.5 531.4 378.5C532.4 378.5 533.4 378.5 534.4 378.4C535.4 378.4 536.4 378.4 537.4 378.4C538.4 378.4 539.4 378.3 540.4 378.3C541.4 378.3 542.4 378.3 543.4 378.3C544.4 378.2 545.4 378.2 546.4 378.2C547.4 378.2 548.4 378.2 549.4 378.2C550.4 378.2 551.4 378.2 552.4 378.2C553.4 378.1 554.4 378.1 555.4 378.1C556.4 378.1 557.4 378.2 558.4 378.2C559.4 378.2 560.4 378.2 561.4 378.2C562.4 378.2 563.4 378.3 564.4 378.3C565.4 378.3 566.4 378.4 567.4 378.4C568.4 378.5 569.4 378.5 570.4 378.6C571.4 378.6 572.4 378.7 573.4 378.8C574.4 378.9 575.4 379.0 576.4 379.1C577.4 379.2 578.4 379.3 579.4 379.4C580.4 379.5 581.4 379.7 582.4 379.8C583.4 380.0 584.4 380.1 585.4 380.3C586.4 380.5 587.4 380.7 588.4 380.9C589.4 381.1 590.4 381.3 591.4 381.5C592.4 381.8 593.4 382.0 594.4 382.3C595.4 382.5 596.4 382.8 597.4 383.1C598.4 383.4 599.4 383.7 600.4 384.0C601.4 384.4 602.4 384.7 603.4 385.1C604.4 385.4 605.4 385.8 606.4 386.2C607.4 386.6 608.4 387.0 609.4 387.4C610.4 387.8 611.4 388.2 612.4 388.6C613.4 389.0 614.4 389.4 615.4 389.8C616.4 390.2 617.4 390.6 618.4 391.0C619.4 391.3 620.4 391.7 621.4 392.1C622.4 392.5 623.4 392.9 624.4 393.2C625.4 393.6 626.4 393.9 627.4 394.3C628.4 394.6 629.4 394.9 630.4 395.2C631.4 395.6 632.4 395.9 633.4 396.2C634.4 396.5 635.4 396.8 636.4 397.1C637.4 397.4 638.4 397.6 639.4 397.9C640.4 398.2 641.4 398.4 642.4 398.7C643.4 398.9 644.4 399.2 645.4 399.4C646.4 399.7 647.4 399.9 648.4 400.1C649.4 400.3 650.4 400.5 651.4 400.7C652.4 400.8 653.4 401.0 654.4 401.1C655.4 401.3 656.4 401.4 657.4 401.5C658.4 401.6 659.4 401.7 660.4 401.7C661.4 401.8 662.4 401.8 663.4 401.8C664.4 401.8 665.4 401.8 666.4 401.7C667.4 401.6 668.4 401.6 669.4 401.4C670.4 401.3 671.4 401.2 672.4 401.0C673.4 400.8 674.4 400.6 675.4 400.3C676.4 400.1 677.4 399.8 678.4 399.5C679.4 399.2 680.4 398.9 681.4 398.5C682.4 398.2 683.4 397.8 684.4 397.4C685.4 396.9 686.4 396.5 687.4 396.0C688.4 395.6 689.4 395.1 690.4 394.5C691.4 394.0 692.4 393.5 693.4 392.9C694.4 392.3 695.4 391.8 696.4 391.1C697.4 390.5 698.4 389.9 699.4 389.2C700.4 388.6 701.4 387.9 702.4 387.2C703.4 386.5 704.4 385.8 705.4 385.1C706.4 384.3 707.4 383.6 708.4 382.8C709.4 382.0 710.4 381.2 711.4 380.4C712.4 379.6 713.4 378.8 714.4 378.0C715.4 377.1 716.4 376.3 717.4 375.4C718.4 374.5 719.4 373.6 720.4 372.8C721.4 371.9 722.4 370.9 723.4 370.0C724.4 369.1 725.4 368.2 726.4 367.3C727.4 366.4 728.4 365.5 729.4 364.6C730.4 363.8 731.4 362.9 732.4 362.1C733.4 361.2 734.4 360.4 735.4 359.7C736.4 358.9 737.4 358.2 738.4 357.5C739.4 356.7 740.4 356.0 741.4 355.3C742.4 354.6 743.4 353.9 744.4 353.2C745.4 352.4 746.4 351.6 747.4 350.9C748.4 350.2 749.4 349.4 750.4 348.8C751.4 348.2 752.4 347.7 753.4 347.3C754.4 346.9 755.4 346.6 756.4 346.6C757.4 346.5 758.4 346.6 759.4 346.8C760.4 347.1 761.4 347.5 762.4 348.1C763.4 348.6 764.4 349.2 765.4 349.9C766.4 350.6 767.4 351.4 768.4 352.2C769.4 352.9 770.4 353.8 771.4 354.7C772.4 355.5 773.4 356.4 774.4 357.3C775.4 358.2 776.4 359.1 777.4 360.0C778.4 360.9 779.4 361.8 780.4 362.6C781.4 363.4 782.4 364.2 783.4 364.9C784.4 365.5 785.4 366.2 786.4 366.7C787.4 367.1 788.4 367.5 789.4 367.7C790.4 367.9 791.4 367.9 792.4 367.7C793.4 367.5 794.4 367.0 795.4 366.3C796.4 365.6 797.4 364.7 798.4 363.7C799.4 362.7 800.4 361.5 801.4 360.3C802.4 359.0 803.4 357.6 804.4 356.3C805.4 354.9 806.6 353.1 807.4 352.0C808.2 350.9 808.7 350.1 809.0 349.7" stroke="#0f99e2" stroke-width="2.05" fill="none" stroke-linejoin="round"/><path d="M126.7 222.7C127.2 223.3 128.7 224.9 129.7 226.0C130.7 227.1 131.7 228.2 132.7 229.3C133.7 230.4 134.7 231.5 135.7 232.5C136.7 233.6 137.7 234.7 138.7 235.7C139.7 236.7 140.7 237.8 141.7 238.8C142.7 239.8 143.7 240.9 144.7 241.9C145.7 242.9 146.7 243.9 147.7 244.9C148.7 245.9 149.7 246.8 150.7 247.8C151.7 248.8 152.7 249.8 153.7 250.7C154.7 251.7 155.7 252.6 156.7 253.6C157.7 254.5 158.7 255.4 159.7 256.4C160.7 257.3 161.7 258.2 162.7 259.1C163.7 260.0 164.7 260.9 165.7 261.8C166.7 262.7 167.7 263.6 168.7 264.5C169.7 265.4 170.7 266.2 171.7 267.1C172.7 268.0 173.7 268.8 174.7 269.7C175.7 270.5 176.7 271.4 177.7 272.2C178.7 273.0 179.7 273.9 180.7 274.7C181.7 275.5 182.7 276.3 183.7 277.2C184.7 278.0 185.7 278.8 186.7 279.6C187.7 280.4 188.7 281.2 189.7 282.0C190.7 282.8 191.7 283.5 192.7 284.3C193.7 285.1 194.7 285.9 195.7 286.6C196.7 287.4 197.7 288.2 198.7 288.9C199.7 289.7 200.7 290.4 201.7 291.2C202.7 291.9 203.7 292.7 204.7 293.4C205.7 294.2 206.7 294.9 207.7 295.6C208.7 296.3 209.7 297.1 210.7 297.8C211.7 298.5 212.7 299.2 213.7 299.9C214.7 300.7 215.7 301.4 216.7 302.1C217.7 302.8 218.7 303.5 219.7 304.2C220.7 304.9 221.7 305.6 222.7 306.3C223.7 306.9 224.7 307.6 225.7 308.3C226.7 309.0 227.7 309.7 228.7 310.4C229.7 311.0 230.7 311.7 231.7 312.4C232.7 313.1 233.7 313.7 234.7 314.4C235.7 315.1 236.7 315.7 237.7 316.4C238.7 317.1 239.7 317.7 240.7 318.4C241.7 319.0 242.7 319.7 243.7 320.3C244.7 321.0 245.7 321.6 246.7 322.3C247.7 322.9 248.7 323.6 249.7 324.2C250.7 324.8 251.7 325.5 252.7 326.1C253.7 326.7 254.7 327.4 255.7 328.0C256.7 328.6 257.7 329.2 258.7 329.9C259.7 330.5 260.7 331.1 261.7 331.7C262.7 332.3 263.7 332.9 264.7 333.6C265.7 334.2 266.7 334.8 267.7 335.4C268.7 336.0 269.7 336.6 270.7 337.2C271.7 337.8 272.7 338.4 273.7 339.0C274.7 339.5 275.7 340.1 276.7 340.7C277.7 341.3 278.7 341.9 279.7 342.5C280.7 343.0 281.7 343.6 282.7 344.2C283.7 344.8 284.7 345.3 285.7 345.9C286.7 346.5 287.7 347.0 288.7 347.6C289.7 348.1 290.7 348.7 291.7 349.3C292.7 349.8 293.7 350.4 294.7 350.9C295.7 351.5 296.7 352.0 297.7 352.5C298.7 353.1 299.7 353.6 300.7 354.1C301.7 354.7 302.7 355.2 303.7 355.7C304.7 356.3 305.7 356.8 306.7 357.3C307.7 357.8 308.7 358.4 309.7 358.9C310.7 359.4 311.7 359.9 312.7 360.4C313.7 360.9 314.7 361.4 315.7 361.9C316.7 362.4 317.7 362.9 318.7 363.4C319.7 363.9 320.7 364.4 321.7 364.9C322.7 365.4 323.7 365.9 324.7 366.3C325.7 366.8 326.7 367.3 327.7 367.8C328.7 368.2 329.7 368.7 330.7 369.2C331.7 369.6 332.7 370.1 333.7 370.6C334.7 371.0 335.7 371.5 336.7 371.9C337.7 372.4 338.7 372.8 339.7 373.3C340.7 373.7 341.7 374.2 342.7 374.6C343.7 375.0 344.7 375.5 345.7 375.9C346.7 376.3 347.7 376.8 348.7 377.2C349.7 377.6 350.7 378.0 351.7 378.4C352.7 378.9 353.7 379.3 354.7 379.7C355.7 380.1 356.7 380.5 357.7 380.9C358.7 381.3 359.7 381.7 360.7 382.1C361.7 382.5 362.7 382.8 363.7 383.2C364.7 383.6 365.7 384.0 366.7 384.4C367.7 384.7 368.7 385.1 369.7 385.5C370.7 385.8 371.7 386.2 372.7 386.6C373.7 386.9 374.7 387.3 375.7 387.6C376.7 388.0 377.7 388.3 378.7 388.7C379.7 389.0 380.7 389.3 381.7 389.7C382.7 390.0 383.7 390.3 384.7 390.6C385.7 391.0 386.7 391.3 387.7 391.6C388.7 391.9 389.7 392.2 390.7 392.5C391.7 392.8 392.7 393.1 393.7 393.4C394.7 393.7 395.7 394.0 396.7 394.3C397.7 394.6 398.7 394.9 399.7 395.2C400.7 395.4 401.7 395.7 402.7 396.0C403.7 396.2 404.7 396.5 405.7 396.8C406.7 397.0 407.7 397.3 408.7 397.5C409.7 397.8 410.7 398.0 411.7 398.3C412.7 398.5 413.7 398.7 414.7 399.0C415.7 399.2 416.7 399.4 417.7 399.7C418.7 399.9 419.7 400.1 420.7 400.3C421.7 400.5 422.7 400.7 423.7 400.9C424.7 401.1 425.7 401.3 426.7 401.5C427.7 401.7 428.7 401.9 429.7 402.1C430.7 402.2 431.7 402.4 432.7 402.6C433.7 402.8 434.7 402.9 435.7 403.1C436.7 403.3 437.7 403.4 438.7 403.6C439.7 403.7 440.7 403.9 441.7 404.0C442.7 404.1 443.7 404.3 444.7 404.4C445.7 404.5 446.7 404.7 447.7 404.8C448.7 404.9 449.7 405.0 450.7 405.1C451.7 405.2 452.7 405.4 453.7 405.5C454.7 405.6 455.7 405.7 456.7 405.8C457.7 405.8 458.7 405.9 459.7 406.0C460.7 406.1 461.7 406.2 462.7 406.3C463.7 406.3 464.7 406.4 465.7 406.5C466.7 406.6 467.7 406.6 468.7 406.7C469.7 406.7 470.7 406.8 471.7 406.8C472.7 406.9 473.7 406.9 474.7 407.0C475.7 407.0 476.7 407.1 477.7 407.1C478.7 407.1 479.7 407.2 480.7 407.2C481.7 407.2 482.7 407.3 483.7 407.3C484.7 407.3 485.7 407.3 486.7 407.3C487.7 407.3 488.7 407.3 489.7 407.3C490.7 407.4 491.7 407.4 492.7 407.4C493.7 407.4 494.7 407.3 495.7 407.3C496.7 407.3 497.7 407.3 498.7 407.3C499.7 407.3 500.7 407.3 501.7 407.2C502.7 407.2 503.7 407.2 504.7 407.2C505.7 407.1 506.7 407.1 507.7 407.1C508.7 407.0 509.7 407.0 510.7 407.0C511.7 406.9 512.7 406.9 513.7 406.9C514.7 406.8 515.7 406.8 516.7 406.7C517.7 406.7 518.7 406.6 519.7 406.6C520.7 406.6 521.7 406.5 522.7 406.5C523.7 406.4 524.7 406.4 525.7 406.4C526.7 406.3 527.7 406.3 528.7 406.2C529.7 406.2 530.7 406.2 531.7 406.1C532.7 406.1 533.7 406.1 534.7 406.1C535.7 406.0 536.7 406.0 537.7 406.0C538.7 406.0 539.7 406.0 540.7 405.9C541.7 405.9 542.7 405.9 543.7 405.9C544.7 405.9 545.7 405.9 546.7 406.0C547.7 406.0 548.7 406.0 549.7 406.0C550.7 406.0 551.7 406.1 552.7 406.1C553.7 406.1 554.7 406.2 555.7 406.2C556.7 406.3 557.7 406.3 558.7 406.4C559.7 406.5 560.7 406.5 561.7 406.6C562.7 406.7 563.7 406.8 564.7 406.9C565.7 407.0 566.7 407.1 567.7 407.2C568.7 407.4 569.7 407.5 570.7 407.6C571.7 407.8 572.7 407.9 573.7 408.1C574.7 408.3 575.7 408.4 576.7 408.6C577.7 408.8 578.7 409.0 579.7 409.2C580.7 409.4 581.7 409.6 582.7 409.8C583.7 410.0 584.7 410.3 585.7 410.5C586.7 410.7 587.7 411.0 588.7 411.2C589.7 411.5 590.7 411.7 591.7 412.0C592.7 412.3 593.7 412.6 594.7 412.8C595.7 413.1 596.7 413.4 597.7 413.7C598.7 414.0 599.7 414.3 600.7 414.6C601.7 414.9 602.7 415.2 603.7 415.5C604.7 415.9 605.7 416.2 606.7 416.5C607.7 416.8 608.7 417.2 609.7 417.5C610.7 417.9 611.7 418.2 612.7 418.6C613.7 418.9 614.7 419.3 615.7 419.6C616.7 420.0 617.7 420.3 618.7 420.7C619.7 421.1 620.7 421.4 621.7 421.8C622.7 422.2 623.7 422.5 624.7 422.9C625.7 423.3 626.7 423.7 627.7 424.0C628.7 424.4 629.7 424.8 630.7 425.1C631.7 425.5 632.7 425.8 633.7 426.2C634.7 426.5 635.7 426.9 636.7 427.2C637.7 427.6 638.7 427.9 639.7 428.2C640.7 428.5 641.7 428.8 642.7 429.1C643.7 429.4 644.7 429.6 645.7 429.9C646.7 430.1 647.7 430.4 648.7 430.6C649.7 430.8 650.7 431.0 651.7 431.2C652.7 431.3 653.7 431.5 654.7 431.6C655.7 431.7 656.7 431.8 657.7 431.9C658.7 432.0 659.7 432.0 660.7 432.0C661.7 432.0 662.7 432.0 663.7 432.0C664.7 431.9 665.7 431.8 666.7 431.7C667.7 431.6 668.7 431.5 669.7 431.3C670.7 431.1 671.7 430.9 672.7 430.7C673.7 430.4 674.7 430.2 675.7 429.8C676.7 429.5 677.7 429.2 678.7 428.9C679.7 428.5 680.7 428.1 681.7 427.7C682.7 427.3 683.7 426.8 684.7 426.4C685.7 425.9 686.7 425.4 687.7 424.9C688.7 424.4 689.7 423.8 690.7 423.2C691.7 422.7 692.7 422.1 693.7 421.5C694.7 420.8 695.7 420.2 696.7 419.5C697.7 418.9 698.7 418.2 699.7 417.5C700.7 416.8 701.7 416.0 702.7 415.3C703.7 414.6 704.7 413.8 705.7 413.0C706.7 412.2 707.7 411.4 708.7 410.6C709.7 409.8 710.7 408.9 711.7 408.1C712.7 407.2 713.7 406.3 714.7 405.4C715.7 404.5 716.7 403.6 717.7 402.7C718.7 401.8 719.7 400.9 720.7 399.9C721.7 399.0 722.7 398.0 723.7 397.0C724.7 396.1 725.7 395.1 726.7 394.1C727.7 393.2 728.7 392.2 729.7 391.2C730.7 390.3 731.7 389.3 732.7 388.4C733.7 387.4 734.7 386.5 735.7 385.6C736.7 384.7 737.7 383.8 738.7 383.0C739.7 382.2 740.7 381.3 741.7 380.6C742.7 379.8 743.7 379.0 744.7 378.4C745.7 377.7 746.7 377.0 747.7 376.4C748.7 375.8 749.7 375.3 750.7 374.8C751.7 374.3 752.7 373.9 753.7 373.6C754.7 373.3 755.7 373.0 756.7 372.9C757.7 372.7 758.7 372.7 759.7 372.8C760.7 372.8 761.7 373.0 762.7 373.4C763.7 373.7 764.7 374.2 765.7 374.8C766.7 375.3 767.7 376.1 768.7 376.9C769.7 377.7 770.7 378.6 771.7 379.4C772.7 380.3 773.7 381.3 774.7 382.2C775.7 383.0 776.7 383.9 777.7 384.7C778.7 385.5 779.7 386.2 780.7 386.8C781.7 387.4 782.7 387.9 783.7 388.3C784.7 388.6 785.7 388.9 786.7 389.1C787.7 389.3 788.7 389.3 789.7 389.2C790.7 389.2 791.7 389.0 792.7 388.7C793.7 388.4 794.7 388.0 795.7 387.5C796.7 386.9 797.7 386.2 798.7 385.1C799.7 384.1 800.7 382.9 801.7 381.3C802.7 379.7 803.8 377.7 804.7 375.6C805.6 373.4 806.9 369.8 807.3 368.6" stroke="#0f99e2" stroke-width="2.05" fill="none" stroke-linejoin="round"/><path d="M124.3 231.5C124.8 232.0 126.3 233.4 127.3 234.4C128.3 235.3 129.3 236.3 130.3 237.2C131.3 238.2 132.3 239.1 133.3 240.1C134.3 241.0 135.3 242.0 136.3 242.9C137.3 243.8 138.3 244.8 139.3 245.7C140.3 246.7 141.3 247.6 142.3 248.5C143.3 249.4 144.3 250.4 145.3 251.3C146.3 252.2 147.3 253.1 148.3 254.1C149.3 255.0 150.3 255.9 151.3 256.8C152.3 257.7 153.3 258.6 154.3 259.5C155.3 260.4 156.3 261.4 157.3 262.3C158.3 263.2 159.3 264.1 160.3 264.9C161.3 265.8 162.3 266.7 163.3 267.6C164.3 268.5 165.3 269.4 166.3 270.3C167.3 271.2 168.3 272.0 169.3 272.9C170.3 273.8 171.3 274.7 172.3 275.5C173.3 276.4 174.3 277.3 175.3 278.2C176.3 279.0 177.3 279.9 178.3 280.7C179.3 281.6 180.3 282.4 181.3 283.3C182.3 284.1 183.3 285.0 184.3 285.8C185.3 286.7 186.3 287.5 187.3 288.4C188.3 289.2 189.3 290.0 190.3 290.9C191.3 291.7 192.3 292.5 193.3 293.4C194.3 294.2 195.3 295.0 196.3 295.8C197.3 296.6 198.3 297.5 199.3 298.3C200.3 299.1 201.3 299.9 202.3 300.7C203.3 301.5 204.3 302.3 205.3 303.1C206.3 303.9 207.3 304.7 208.3 305.5C209.3 306.3 210.3 307.1 211.3 307.8C212.3 308.6 213.3 309.4 214.3 310.2C215.3 310.9 216.3 311.7 217.3 312.5C218.3 313.3 219.3 314.0 220.3 314.8C221.3 315.5 222.3 316.3 223.3 317.1C224.3 317.8 225.3 318.6 226.3 319.3C227.3 320.1 228.3 320.8 229.3 321.5C230.3 322.3 231.3 323.0 232.3 323.7C233.3 324.5 234.3 325.2 235.3 325.9C236.3 326.6 237.3 327.4 238.3 328.1C239.3 328.8 240.3 329.5 241.3 330.2C242.3 330.9 243.3 331.6 244.3 332.3C245.3 333.0 246.3 333.7 247.3 334.4C248.3 335.1 249.3 335.8 250.3 336.5C251.3 337.2 252.3 337.8 253.3 338.5C254.3 339.2 255.3 339.9 256.3 340.5C257.3 341.2 258.3 341.9 259.3 342.5C260.3 343.2 261.3 343.8 262.3 344.5C263.3 345.1 264.3 345.8 265.3 346.4C266.3 347.1 267.3 347.7 268.3 348.4C269.3 349.0 270.3 349.6 271.3 350.2C272.3 350.9 273.3 351.5 274.3 352.1C275.3 352.7 276.3 353.3 277.3 354.0C278.3 354.6 279.3 355.2 280.3 355.8C281.3 356.4 282.3 357.0 283.3 357.6C284.3 358.2 285.3 358.7 286.3 359.3C287.3 359.9 288.3 360.5 289.3 361.1C290.3 361.6 291.3 362.2 292.3 362.8C293.3 363.3 294.3 363.9 295.3 364.5C296.3 365.0 297.3 365.6 298.3 366.1C299.3 366.7 300.3 367.2 301.3 367.8C302.3 368.3 303.3 368.9 304.3 369.4C305.3 369.9 306.3 370.5 307.3 371.0C308.3 371.5 309.3 372.0 310.3 372.6C311.3 373.1 312.3 373.6 313.3 374.1C314.3 374.6 315.3 375.1 316.3 375.6C317.3 376.1 318.3 376.6 319.3 377.1C320.3 377.6 321.3 378.1 322.3 378.6C323.3 379.1 324.3 379.6 325.3 380.0C326.3 380.5 327.3 381.0 328.3 381.5C329.3 381.9 330.3 382.4 331.3 382.9C332.3 383.3 333.3 383.8 334.3 384.2C335.3 384.7 336.3 385.1 337.3 385.6C338.3 386.0 339.3 386.5 340.3 386.9C341.3 387.4 342.3 387.8 343.3 388.2C344.3 388.7 345.3 389.1 346.3 389.5C347.3 389.9 348.3 390.4 349.3 390.8C350.3 391.2 351.3 391.6 352.3 392.0C353.3 392.4 354.3 392.8 355.3 393.2C356.3 393.6 357.3 394.0 358.3 394.4C359.3 394.8 360.3 395.2 361.3 395.6C362.3 396.0 363.3 396.3 364.3 396.7C365.3 397.1 366.3 397.5 367.3 397.8C368.3 398.2 369.3 398.6 370.3 398.9C371.3 399.3 372.3 399.6 373.3 400.0C374.3 400.3 375.3 400.7 376.3 401.0C377.3 401.4 378.3 401.7 379.3 402.1C380.3 402.4 381.3 402.7 382.3 403.1C383.3 403.4 384.3 403.7 385.3 404.1C386.3 404.4 387.3 404.7 388.3 405.0C389.3 405.3 390.3 405.6 391.3 405.9C392.3 406.3 393.3 406.6 394.3 406.9C395.3 407.2 396.3 407.5 397.3 407.8C398.3 408.0 399.3 408.3 400.3 408.6C401.3 408.9 402.3 409.2 403.3 409.5C404.3 409.7 405.3 410.0 406.3 410.3C407.3 410.6 408.3 410.8 409.3 411.1C410.3 411.4 411.3 411.6 412.3 411.9C413.3 412.1 414.3 412.4 415.3 412.6C416.3 412.9 417.3 413.1 418.3 413.4C419.3 413.6 420.3 413.8 421.3 414.1C422.3 414.3 423.3 414.5 424.3 414.8C425.3 415.0 426.3 415.2 427.3 415.4C428.3 415.6 429.3 415.8 430.3 416.1C431.3 416.3 432.3 416.5 433.3 416.7C434.3 416.9 435.3 417.1 436.3 417.3C437.3 417.5 438.3 417.6 439.3 417.8C440.3 418.0 441.3 418.2 442.3 418.4C443.3 418.5 444.3 418.7 445.3 418.9C446.3 419.1 447.3 419.2 448.3 419.4C449.3 419.5 450.3 419.7 451.3 419.8C452.3 420.0 453.3 420.1 454.3 420.3C455.3 420.4 456.3 420.6 457.3 420.7C458.3 420.8 459.3 421.0 460.3 421.1C461.3 421.2 462.3 421.3 463.3 421.5C464.3 421.6 465.3 421.7 466.3 421.8C467.3 421.9 468.3 422.0 469.3 422.1C470.3 422.2 471.3 422.3 472.3 422.4C473.3 422.5 474.3 422.6 475.3 422.6C476.3 422.7 477.3 422.8 478.3 422.9C479.3 422.9 480.3 423.0 481.3 423.1C482.3 423.1 483.3 423.2 484.3 423.3C485.3 423.3 486.3 423.4 487.3 423.4C488.3 423.5 489.3 423.5 490.3 423.6C491.3 423.6 492.3 423.6 493.3 423.7C494.3 423.7 495.3 423.8 496.3 423.8C497.3 423.8 498.3 423.9 499.3 423.9C500.3 423.9 501.3 423.9 502.3 424.0C503.3 424.0 504.3 424.0 505.3 424.0C506.3 424.1 507.3 424.1 508.3 424.1C509.3 424.1 510.3 424.1 511.3 424.2C512.3 424.2 513.3 424.2 514.3 424.2C515.3 424.2 516.3 424.3 517.3 424.3C518.3 424.3 519.3 424.3 520.3 424.3C521.3 424.4 522.3 424.4 523.3 424.4C524.3 424.4 525.3 424.5 526.3 424.5C527.3 424.5 528.3 424.5 529.3 424.5C530.3 424.6 531.3 424.6 532.3 424.6C533.3 424.7 534.3 424.7 535.3 424.7C536.3 424.8 537.3 424.8 538.3 424.8C539.3 424.9 540.3 424.9 541.3 425.0C542.3 425.0 543.3 425.1 544.3 425.1C545.3 425.2 546.3 425.2 547.3 425.3C548.3 425.3 549.3 425.4 550.3 425.4C551.3 425.5 552.3 425.6 553.3 425.6C554.3 425.7 555.3 425.8 556.3 425.9C557.3 426.0 558.3 426.0 559.3 426.1C560.3 426.2 561.3 426.3 562.3 426.4C563.3 426.5 564.3 426.6 565.3 426.7C566.3 426.8 567.3 426.9 568.3 427.1C569.3 427.2 570.3 427.3 571.3 427.4C572.3 427.5 573.3 427.7 574.3 427.8C575.3 427.9 576.3 428.1 577.3 428.2C578.3 428.4 579.3 428.5 580.3 428.7C581.3 428.9 582.3 429.0 583.3 429.2C584.3 429.4 585.3 429.5 586.3 429.7C587.3 429.9 588.3 430.1 589.3 430.3C590.3 430.5 591.3 430.7 592.3 430.9C593.3 431.1 594.3 431.3 595.3 431.5C596.3 431.7 597.3 432.0 598.3 432.2C599.3 432.4 600.3 432.7 601.3 432.9C602.3 433.2 603.3 433.4 604.3 433.7C605.3 433.9 606.3 434.2 607.3 434.5C608.3 434.7 609.3 435.0 610.3 435.3C611.3 435.6 612.3 435.9 613.3 436.2C614.3 436.5 615.3 436.8 616.3 437.1C617.3 437.4 618.3 437.8 619.3 438.1C620.3 438.4 621.3 438.7 622.3 439.1C623.3 439.4 624.3 439.7 625.3 440.1C626.3 440.4 627.3 440.7 628.3 441.0C629.3 441.4 630.3 441.7 631.3 442.0C632.3 442.3 633.3 442.6 634.3 442.9C635.3 443.3 636.3 443.5 637.3 443.8C638.3 444.1 639.3 444.4 640.3 444.7C641.3 444.9 642.3 445.2 643.3 445.4C644.3 445.7 645.3 445.9 646.3 446.1C647.3 446.3 648.3 446.5 649.3 446.7C650.3 446.9 651.3 447.0 652.3 447.2C653.3 447.3 654.3 447.4 655.3 447.5C656.3 447.6 657.3 447.7 658.3 447.8C659.3 447.8 660.3 447.8 661.3 447.8C662.3 447.8 663.3 447.8 664.3 447.8C665.3 447.7 666.3 447.6 667.3 447.5C668.3 447.4 669.3 447.2 670.3 447.1C671.3 446.9 672.3 446.7 673.3 446.5C674.3 446.2 675.3 446.0 676.3 445.7C677.3 445.4 678.3 445.1 679.3 444.8C680.3 444.4 681.3 444.1 682.3 443.7C683.3 443.3 684.3 442.9 685.3 442.4C686.3 442.0 687.3 441.5 688.3 441.0C689.3 440.5 690.3 440.0 691.3 439.5C692.3 438.9 693.3 438.4 694.3 437.8C695.3 437.2 696.3 436.6 697.3 435.9C698.3 435.3 699.3 434.6 700.3 434.0C701.3 433.3 702.3 432.6 703.3 431.8C704.3 431.1 705.3 430.3 706.3 429.6C707.3 428.8 708.3 428.0 709.3 427.2C710.3 426.4 711.3 425.5 712.3 424.7C713.3 423.8 714.3 422.9 715.3 422.0C716.3 421.1 717.3 420.2 718.3 419.3C719.3 418.3 720.3 417.4 721.3 416.4C722.3 415.4 723.3 414.4 724.3 413.4C725.3 412.4 726.3 411.4 727.3 410.4C728.3 409.4 729.3 408.3 730.3 407.3C731.3 406.3 732.3 405.3 733.3 404.4C734.3 403.4 735.3 402.4 736.3 401.5C737.3 400.6 738.3 399.7 739.3 398.8C740.3 398.0 741.3 397.1 742.3 396.3C743.3 395.6 744.3 394.8 745.3 394.1C746.3 393.4 747.3 392.8 748.3 392.2C749.3 391.7 750.3 391.2 751.3 390.7C752.3 390.3 753.3 389.9 754.3 389.7C755.3 389.4 756.3 389.2 757.3 389.1C758.3 389.0 759.3 389.1 760.3 389.2C761.3 389.3 762.3 389.5 763.3 389.9C764.3 390.2 765.3 390.7 766.3 391.3C767.3 391.9 768.3 392.6 769.3 393.4C770.3 394.1 771.3 395.0 772.3 395.9C773.3 396.7 774.3 397.7 775.3 398.5C776.3 399.4 777.3 400.3 778.3 401.2C779.3 402.0 780.3 402.8 781.3 403.5C782.3 404.2 783.3 404.8 784.3 405.3C785.3 405.8 786.3 406.2 787.3 406.4C788.3 406.6 789.3 406.7 790.3 406.5C791.3 406.4 792.3 406.0 793.3 405.6C794.3 405.1 795.3 404.4 796.3 403.7C797.3 403.0 798.3 402.1 799.3 401.2C800.3 400.4 801.3 399.5 802.3 398.4C803.3 397.3 804.5 396.0 805.3 394.9C806.1 393.7 807.0 392.1 807.3 391.5" stroke="#0f99e2" stroke-width="2.05" fill="none" stroke-linejoin="round" stroke-dasharray="3.4 3.25" stroke-dashoffset="3.75"/><path d="M81.6 48V478.5" stroke="#000" stroke-width="3" fill="none"/><path d="M81.5 34.8L77 49.3H86Z" fill="#000"/><path d="M66.3 467.4H875" stroke="#000" stroke-width="3" fill="none"/><path d="M888 467.4L873.5 463V471.8Z" fill="#000"/><path d="M73.4 66.4H81M73.4 94.6H81M73.4 123.3H81M73.4 150.8H81M73.4 179.1H81M73.4 208.1H81M73.4 236.0H81M73.4 266.3H81M73.4 295.5H81M73.4 323.2H81M73.4 350.1H81M73.4 377.6H81M73.4 405.2H81M73.4 435.5H81" stroke="#000" stroke-width="2.8" fill="none"/><path d="M121.3 468V472.4M218.3 468V472.4M292.8 468V472.4M362.3 468V472.4M456.3 468V472.4M526.6 468V472.4M599.4 468V472.4M693.3 468V472.4M765.3 468V472.4M809.4 468V472.4" stroke="#000" stroke-width="3" fill="none"/><g font-family="Liberation Sans" font-weight="bold" font-size="17.5" fill="#000" text-anchor="end"><text x="70.0" y="73.1" letter-spacing="0.7">130</text><text x="71.3" y="100.9" letter-spacing="0.7">120</text><text x="71.3" y="128.8" letter-spacing="0.7">110</text><text x="71.3" y="156.8" letter-spacing="0.7">100</text><text x="71.3" y="185.5" letter-spacing="0.7">90</text><text x="71.3" y="214.1" letter-spacing="0.7">80</text><text x="71.3" y="241.8" letter-spacing="0.7">70</text><text x="71.3" y="272.8" letter-spacing="0.7">60</text><text x="71.3" y="301.8" letter-spacing="0.7">50</text><text x="71.3" y="329.8" letter-spacing="0.7">40</text><text x="71.3" y="357.1" letter-spacing="0.7">30</text><text x="71.3" y="384.4" letter-spacing="0.7">20</text><text x="71.3" y="412.6" letter-spacing="0.7">10</text><text x="68.2" y="441.6" letter-spacing="0.7">0</text></g><g font-family="Liberation Sans" font-weight="bold" font-size="18.0" fill="#000"><text x="106.2" y="492.0">20 Hz</text><text x="211.2" y="492.5">50</text><text x="277.9" y="492.1">100</text><text x="346.9" y="493">200</text><text x="439.2" y="493">500</text><text x="512.9" y="493">1 k</text><text x="585.1" y="492.9">2 k</text><text x="681.4" y="492.9">5 k</text><text x="746.6" y="493">10 k</text><text x="799.9" y="493.7">20 k</text></g><g font-family="Liberation Sans" font-size="14.2" fill="#2a2a2a"><text transform="translate(547.4 61.3) scale(1.27 1)">130</text><text transform="translate(547.4 90.2) scale(1.27 1)">120</text><text transform="translate(548.2 118.7) scale(1.27 1)">110</text><text transform="translate(547.6 147.8) scale(1.27 1)">100</text><text transform="translate(552.3 170.3) scale(1.27 1)">90</text><text transform="translate(552.1 199.2) scale(1.27 1)">80</text><text transform="translate(552.3 228.3) scale(1.27 1)">70</text><text transform="translate(552.1 257.6) scale(1.27 1)">60</text><text transform="translate(552.1 289.5) scale(1.27 1)">50</text><text transform="translate(552.1 315.3) scale(1.27 1)">40</text><text transform="translate(552.1 341.1) scale(1.27 1)">30</text><text transform="translate(552.1 373.1) scale(1.27 1)">20</text><text transform="translate(552.7 398.7) scale(1.27 1)">10</text><text transform="translate(557.2 421.9) scale(1.27 1)">0</text><text transform="translate(541.4 453.75) scale(1.27 1)">Phon</text></g><text x="306.1" y="23.4" font-family="Liberation Sans" font-size="26.4" fill="#000">Equal Loudness Curves</text><text x="6.2" y="269.75" font-family="Liberation Sans" font-size="24" fill="#000" textLength="26.3" lengthAdjust="spacingAndGlyphs">dB</text><text x="387.2" y="520.7" font-family="Liberation Sans" font-size="21.5" fill="#000" textLength="159.6" lengthAdjust="spacingAndGlyphs">Frequency [Hz]</text></svg>
</body></html>
